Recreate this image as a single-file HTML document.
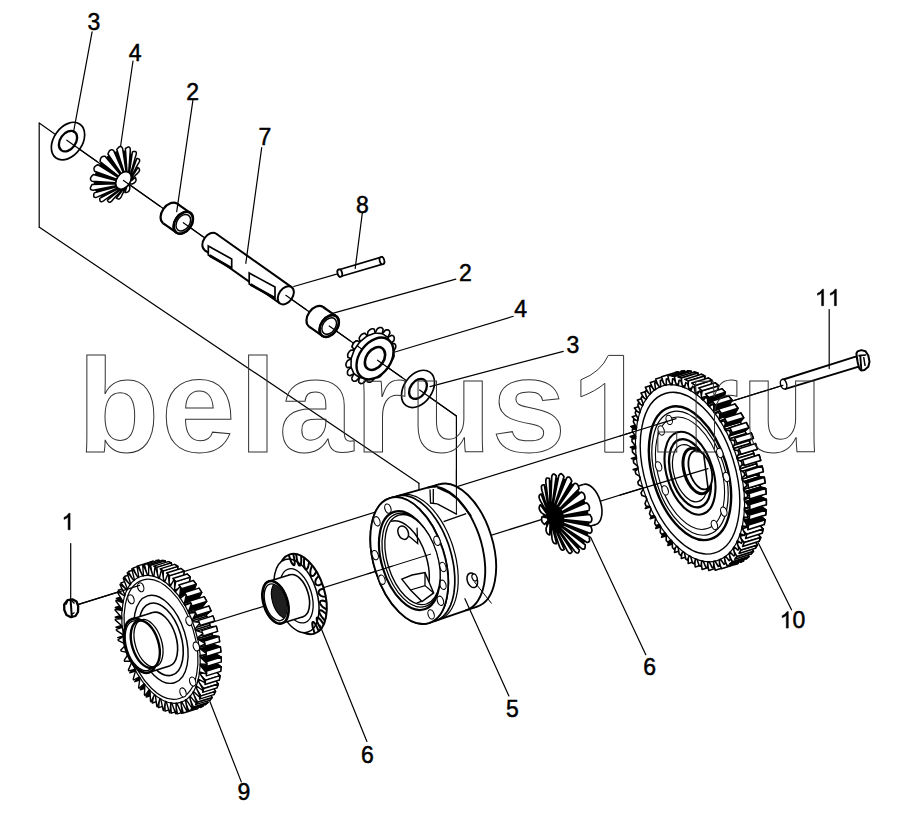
<!DOCTYPE html>
<html><head><meta charset="utf-8"><style>
html,body{margin:0;padding:0;background:#fff;}
svg{display:block;}
.wm text{font-family:"Liberation Sans",sans-serif;font-weight:bold;font-size:134px;fill:none;stroke:#333;stroke-width:1;}
.lb text{font-family:"Liberation Sans",sans-serif;font-size:23px;fill:#000;stroke:#000;stroke-width:0.5px;}
</style></head><body>
<svg width="900" height="827" viewBox="0 0 900 827">
<rect width="900" height="827" fill="#fff"/>
<g stroke-linecap="round"><line x1="39.2" y1="123.1" x2="39.2" y2="227.5" stroke="#000" stroke-width="1.2"/><line x1="39.2" y1="123.1" x2="55.1" y2="134.2" stroke="#000" stroke-width="1.2"/><line x1="39.4" y1="227.3" x2="418.9" y2="483.3" stroke="#000" stroke-width="1.2"/><line x1="418.9" y1="483.3" x2="419.1" y2="497.5" stroke="#000" stroke-width="1.2"/><line x1="456.4" y1="416.0" x2="456.4" y2="513.5" stroke="#000" stroke-width="1.2"/><line x1="66.8" y1="140.2" x2="456.4" y2="416.0" stroke="#000" stroke-width="1.2"/><line x1="161.0" y1="638.3" x2="690.0" y2="473.2" stroke="#000" stroke-width="1.2"/><line x1="77.8" y1="604.6" x2="783.0" y2="385.3" stroke="#000" stroke-width="1.2"/><line x1="293.8" y1="286.5" x2="336.6" y2="274.2" stroke="#000" stroke-width="1.2"/></g>
<g><g transform="translate(0,1.3)"><path d="M195.8,696.3 L194.8,696.6 L197.8,707.2 L194.9,707.8 L191.9,697.2 L190.9,697.3 L189.9,697.4 L192.0,708.0 L188.9,707.9 L186.8,697.2 L185.7,697.1 L184.6,696.9 L185.9,707.4 L182.7,706.6 L181.4,696.0 L180.3,695.7 L179.2,695.2 L179.5,705.4 L176.4,703.8 L176.0,693.6 L174.9,693.0 L173.8,692.3 L173.2,701.9 L170.0,699.7 L170.5,690.0 L169.4,689.2 L168.3,688.3 L166.8,697.2 L163.7,694.3 L165.1,685.4 L164.0,684.3 L163.0,683.2 L160.6,691.2 L157.6,687.7 L159.9,679.7 L158.9,678.4 L157.9,677.1 L154.7,684.0 L151.9,680.1 L155.1,673.1 L154.1,671.6 L153.2,670.2 L149.3,675.9 L146.7,671.5 L150.6,665.7 L149.7,664.1 L148.9,662.6 L144.3,667.0 L142.0,662.2 L146.6,657.7 L145.9,656.0 L145.2,654.4 L139.9,657.4 L138.0,652.4 L143.2,649.2 L142.6,647.5 L142.0,645.8 L136.2,647.3 L134.7,642.2 L140.4,640.5 L139.9,638.7 L139.4,636.9 L133.3,637.0 L132.2,631.8 L138.3,631.6 L137.9,629.8 L137.6,628.0 L131.2,626.6 L130.5,621.4 L136.9,622.7 L136.7,620.9 L136.5,619.2 L130.0,616.3 L129.7,611.3 L136.2,614.0 L136.2,612.3 L136.2,610.7 L129.6,606.4 L129.8,601.6 L136.3,605.8 L136.5,604.1 L136.6,602.6 L130.2,597.0 L130.8,592.5 L137.2,598.0 L137.5,596.5 L137.8,595.1 L131.6,588.3 L132.6,584.3 L138.9,591.0 L139.3,589.6 L139.7,588.4 L133.9,580.5 L135.3,576.9 L141.2,584.7 L141.8,583.6 L142.3,582.5 L137.0,573.7 L138.8,570.7 L144.2,579.5 L144.9,578.5 L145.6,577.6 L140.8,568.1 L143.0,565.7 L147.8,575.2 L148.6,574.5 L149.4,573.9 L145.3,563.7 L147.8,562.1 L152.0,572.1 L152.9,571.7 L153.8,571.2 L150.4,560.7 L153.2,559.8 L156.6,570.2 L157.6,570.0 L158.5,569.8 L156.0,559.2 L159.0,558.9 L161.6,569.6 L162.6,569.6 L163.6,569.7 L162.0,559.1 L165.1,559.5 L166.8,570.2 L167.9,570.4 L169.0,570.7 L168.2,560.4 L171.4,561.6 L172.2,572.0 L173.3,572.5 L174.4,573.0 L174.6,563.1 L177.8,565.0 L177.7,575.0 L178.8,575.7 L179.9,576.5 L181.0,567.2 L184.1,569.8 L183.2,579.1 L184.2,580.1 L185.3,581.1 L187.2,572.7 L190.3,575.8 L188.4,584.3 L189.5,585.5 L190.5,586.7 L193.3,579.2 L196.2,582.9 L193.5,590.5 L194.4,591.8 L195.4,593.2 L199.0,586.9 L201.7,591.1 L198.2,597.5 L199.0,599.0 L199.9,600.5 L204.2,595.4 L206.7,600.0 L202.4,605.2 L203.2,606.8 L204.0,608.4 L208.9,604.7 L211.0,609.6 L206.1,613.4 L206.8,615.1 L207.4,616.9 L213.0,614.6 L214.7,619.7 L209.2,622.1 L209.8,623.8 L210.3,625.6 L216.3,624.8 L217.6,630.0 L211.7,630.9 L212.1,632.7 L212.5,634.5 L218.8,635.2 L219.7,640.4 L213.5,639.8 L213.7,641.6 L214.0,643.4 L220.4,645.5 L220.9,650.7 L214.5,648.6 L214.6,650.4 L214.7,652.1 L221.2,655.7 L221.3,660.6 L214.7,657.1 L214.7,658.8 L214.6,660.4 L221.1,665.4 L220.7,670.0 L214.2,665.2 L214.0,666.7 L213.8,668.2 L220.1,674.4 L219.3,678.7 L213.0,672.6 L212.6,674.0 L212.3,675.3 L218.3,682.7 L217.0,686.5 L211.0,679.2 L210.5,680.5 L210.0,681.6 L215.6,690.0 L213.9,693.3 L208.3,685.0 L207.7,686.0 L207.0,687.0 L212.1,696.2 L210.1,698.9 L205.0,689.8 L204.2,690.6 L203.5,691.4 L207.9,701.2 L205.6,703.2 L201.1,693.4 L200.2,694.0 L199.4,694.6 L203.1,704.9 L200.5,706.2 L196.7,695.9 Z" fill="#fff" stroke="#000" stroke-width="1.4" stroke-linejoin="round"/><path d="M117.7,636.3 L123.8,636.1 L138.3,631.6 L132.2,631.8 Z" fill="#000" stroke="#000" stroke-width="1.4" stroke-linejoin="round"/><path d="M134.5,667.1 L129.8,671.5 L144.3,667.0 L148.9,662.6 Z" fill="#000" stroke="#000" stroke-width="1.4" stroke-linejoin="round"/><path d="M116.0,625.9 L122.4,627.2 L136.9,622.7 L130.5,621.4 Z" fill="#000" stroke="#000" stroke-width="1.4" stroke-linejoin="round"/><path d="M138.8,674.7 L134.8,680.4 L149.3,675.9 L153.2,670.2 Z" fill="#000" stroke="#000" stroke-width="1.4" stroke-linejoin="round"/><path d="M115.2,615.8 L121.8,618.5 L136.2,614.0 L129.7,611.3 Z" fill="#000" stroke="#000" stroke-width="1.4" stroke-linejoin="round"/><path d="M143.5,681.6 L140.3,688.5 L154.7,684.0 L157.9,677.1 Z" fill="#000" stroke="#000" stroke-width="1.4" stroke-linejoin="round"/><path d="M115.3,606.1 L121.9,610.3 L136.3,605.8 L129.8,601.6 Z" fill="#000" stroke="#000" stroke-width="1.4" stroke-linejoin="round"/><path d="M148.5,687.7 L146.2,695.7 L160.6,691.2 L163.0,683.2 Z" fill="#000" stroke="#000" stroke-width="1.4" stroke-linejoin="round"/><path d="M116.3,597.0 L122.8,602.5 L137.2,598.0 L130.8,592.5 Z" fill="#000" stroke="#000" stroke-width="1.4" stroke-linejoin="round"/><path d="M153.8,692.8 L152.3,701.7 L166.8,697.2 L168.3,688.3 Z" fill="#fff" stroke="#000" stroke-width="1.4" stroke-linejoin="round"/><path d="M118.2,588.8 L124.4,595.5 L138.9,591.0 L132.6,584.3 Z" fill="#fff" stroke="#000" stroke-width="1.4" stroke-linejoin="round"/><path d="M159.3,696.8 L158.7,706.4 L173.2,701.9 L173.8,692.3 Z" fill="#fff" stroke="#000" stroke-width="1.4" stroke-linejoin="round"/><path d="M120.9,581.5 L126.7,589.2 L141.2,584.7 L135.3,576.9 Z" fill="#fff" stroke="#000" stroke-width="1.4" stroke-linejoin="round"/><path d="M164.8,699.7 L165.1,709.9 L179.5,705.4 L179.2,695.2 Z" fill="#fff" stroke="#000" stroke-width="1.4" stroke-linejoin="round"/><path d="M124.3,575.2 L129.7,584.0 L144.2,579.5 L138.8,570.7 Z" fill="#fff" stroke="#000" stroke-width="1.4" stroke-linejoin="round"/><path d="M170.2,701.4 L171.4,711.9 L185.9,707.4 L184.6,696.9 Z" fill="#fff" stroke="#000" stroke-width="1.4" stroke-linejoin="round"/><path d="M128.5,570.2 L133.4,579.7 L147.8,575.2 L143.0,565.7 Z" fill="#fff" stroke="#000" stroke-width="1.4" stroke-linejoin="round"/><path d="M175.4,701.9 L177.5,712.5 L192.0,708.0 L189.9,697.4 Z" fill="#fff" stroke="#000" stroke-width="1.4" stroke-linejoin="round"/><path d="M133.3,566.6 L137.5,576.6 L152.0,572.1 L147.8,562.1 Z" fill="#fff" stroke="#000" stroke-width="1.4" stroke-linejoin="round"/><path d="M180.4,701.1 L183.3,711.7 L197.8,707.2 L194.8,696.6 Z" fill="#fff" stroke="#000" stroke-width="1.4" stroke-linejoin="round"/><path d="M138.7,564.3 L142.1,574.8 L156.6,570.2 L153.2,559.8 Z" fill="#fff" stroke="#000" stroke-width="1.4" stroke-linejoin="round"/><path d="M184.9,699.1 L188.7,709.4 L203.1,704.9 L199.4,694.6 Z" fill="#fff" stroke="#000" stroke-width="1.4" stroke-linejoin="round"/><path d="M185.8,698.5 L184.9,699.1 L199.4,694.6 L200.2,694.0 Z" fill="#000" stroke="#000" stroke-width="1.4" stroke-linejoin="round"/><path d="M144.5,563.4 L147.1,574.1 L161.6,569.6 L159.0,558.9 Z" fill="#fff" stroke="#000" stroke-width="1.4" stroke-linejoin="round"/><path d="M186.6,697.9 L185.8,698.5 L200.2,694.0 L201.1,693.4 Z" fill="#000" stroke="#000" stroke-width="1.4" stroke-linejoin="round"/><path d="M147.1,574.1 L148.1,574.1 L162.6,569.6 L161.6,569.6 Z" fill="#000" stroke="#000" stroke-width="1.4" stroke-linejoin="round"/><path d="M148.1,574.1 L149.2,574.2 L163.6,569.7 L162.6,569.6 Z" fill="#000" stroke="#000" stroke-width="1.4" stroke-linejoin="round"/><path d="M193.5,705.7 L191.1,707.7 L205.6,703.2 L207.9,701.2 Z" fill="#fff" stroke="#000" stroke-width="1.4" stroke-linejoin="round"/><path d="M189.8,695.1 L189.0,695.9 L203.5,691.4 L204.2,690.6 Z" fill="#000" stroke="#000" stroke-width="1.4" stroke-linejoin="round"/><path d="M189.0,695.9 L193.5,705.7 L207.9,701.2 L203.5,691.4 Z" fill="#fff" stroke="#000" stroke-width="1.4" stroke-linejoin="round"/><path d="M147.5,563.6 L150.6,564.0 L165.1,559.5 L162.0,559.1 Z" fill="#fff" stroke="#000" stroke-width="1.4" stroke-linejoin="round"/><path d="M190.5,694.3 L189.8,695.1 L204.2,690.6 L205.0,689.8 Z" fill="#000" stroke="#000" stroke-width="1.4" stroke-linejoin="round"/><path d="M152.4,574.7 L153.4,574.9 L167.9,570.4 L166.8,570.2 Z" fill="#000" stroke="#000" stroke-width="1.4" stroke-linejoin="round"/><path d="M150.6,564.0 L152.4,574.7 L166.8,570.2 L165.1,559.5 Z" fill="#fff" stroke="#000" stroke-width="1.4" stroke-linejoin="round"/><path d="M153.4,574.9 L154.5,575.2 L169.0,570.7 L167.9,570.4 Z" fill="#000" stroke="#000" stroke-width="1.4" stroke-linejoin="round"/><path d="M193.2,690.5 L192.6,691.5 L207.0,687.0 L207.7,686.0 Z" fill="#000" stroke="#000" stroke-width="1.4" stroke-linejoin="round"/><path d="M197.7,700.7 L195.6,703.4 L210.1,698.9 L212.1,696.2 Z" fill="#fff" stroke="#000" stroke-width="1.4" stroke-linejoin="round"/><path d="M192.6,691.5 L197.7,700.7 L212.1,696.2 L207.0,687.0 Z" fill="#fff" stroke="#000" stroke-width="1.4" stroke-linejoin="round"/><path d="M193.8,689.5 L193.2,690.5 L207.7,686.0 L208.3,685.0 Z" fill="#000" stroke="#000" stroke-width="1.4" stroke-linejoin="round"/><path d="M157.8,576.5 L158.9,577.0 L173.3,572.5 L172.2,572.0 Z" fill="#000" stroke="#000" stroke-width="1.4" stroke-linejoin="round"/><path d="M153.7,564.9 L156.9,566.1 L171.4,561.6 L168.2,560.4 Z" fill="#fff" stroke="#000" stroke-width="1.4" stroke-linejoin="round"/><path d="M156.9,566.1 L157.8,576.5 L172.2,572.0 L171.4,561.6 Z" fill="#fff" stroke="#000" stroke-width="1.4" stroke-linejoin="round"/><path d="M158.9,577.0 L160.0,577.5 L174.4,573.0 L173.3,572.5 Z" fill="#000" stroke="#000" stroke-width="1.4" stroke-linejoin="round"/><path d="M196.0,685.0 L195.5,686.2 L210.0,681.6 L210.5,680.5 Z" fill="#000" stroke="#000" stroke-width="1.4" stroke-linejoin="round"/><path d="M196.5,683.7 L196.0,685.0 L210.5,680.5 L211.0,679.2 Z" fill="#000" stroke="#000" stroke-width="1.4" stroke-linejoin="round"/><path d="M163.3,579.5 L164.4,580.2 L178.8,575.7 L177.7,575.0 Z" fill="#000" stroke="#000" stroke-width="1.4" stroke-linejoin="round"/><path d="M195.5,686.2 L201.1,694.5 L215.6,690.0 L210.0,681.6 Z" fill="#fff" stroke="#000" stroke-width="1.4" stroke-linejoin="round"/><path d="M201.1,694.5 L199.5,697.8 L213.9,693.3 L215.6,690.0 Z" fill="#fff" stroke="#000" stroke-width="1.4" stroke-linejoin="round"/><path d="M164.4,580.2 L165.4,581.0 L179.9,576.5 L178.8,575.7 Z" fill="#000" stroke="#000" stroke-width="1.4" stroke-linejoin="round"/><path d="M163.3,569.5 L163.3,579.5 L177.7,575.0 L177.8,565.0 Z" fill="#fff" stroke="#000" stroke-width="1.4" stroke-linejoin="round"/><path d="M160.1,567.6 L163.3,569.5 L177.8,565.0 L174.6,563.1 Z" fill="#fff" stroke="#000" stroke-width="1.4" stroke-linejoin="round"/><path d="M198.2,678.5 L197.8,679.8 L212.3,675.3 L212.6,674.0 Z" fill="#000" stroke="#000" stroke-width="1.4" stroke-linejoin="round"/><path d="M198.5,677.1 L198.2,678.5 L212.6,674.0 L213.0,672.6 Z" fill="#fff" stroke="#000" stroke-width="1.4" stroke-linejoin="round"/><path d="M168.7,583.6 L169.8,584.6 L184.2,580.1 L183.2,579.1 Z" fill="#fff" stroke="#000" stroke-width="1.4" stroke-linejoin="round"/><path d="M197.8,679.8 L203.8,687.2 L218.3,682.7 L212.3,675.3 Z" fill="#fff" stroke="#000" stroke-width="1.4" stroke-linejoin="round"/><path d="M169.8,584.6 L170.8,585.6 L185.3,581.1 L184.2,580.1 Z" fill="#fff" stroke="#000" stroke-width="1.4" stroke-linejoin="round"/><path d="M203.8,687.2 L202.6,691.0 L217.0,686.5 L218.3,682.7 Z" fill="#fff" stroke="#000" stroke-width="1.4" stroke-linejoin="round"/><path d="M169.7,574.3 L168.7,583.6 L183.2,579.1 L184.1,569.8 Z" fill="#fff" stroke="#000" stroke-width="1.4" stroke-linejoin="round"/><path d="M166.5,571.7 L169.7,574.3 L184.1,569.8 L181.0,567.2 Z" fill="#fff" stroke="#000" stroke-width="1.4" stroke-linejoin="round"/><path d="M199.6,671.2 L199.4,672.7 L213.8,668.2 L214.0,666.7 Z" fill="#fff" stroke="#000" stroke-width="1.4" stroke-linejoin="round"/><path d="M199.8,669.7 L199.6,671.2 L214.0,666.7 L214.2,665.2 Z" fill="#fff" stroke="#000" stroke-width="1.4" stroke-linejoin="round"/><path d="M174.0,588.8 L175.0,590.0 L189.5,585.5 L188.4,584.3 Z" fill="#fff" stroke="#000" stroke-width="1.4" stroke-linejoin="round"/><path d="M175.0,590.0 L176.0,591.2 L190.5,586.7 L189.5,585.5 Z" fill="#fff" stroke="#000" stroke-width="1.4" stroke-linejoin="round"/><path d="M199.4,672.7 L205.7,678.9 L220.1,674.4 L213.8,668.2 Z" fill="#fff" stroke="#000" stroke-width="1.4" stroke-linejoin="round"/><path d="M175.8,580.3 L174.0,588.8 L188.4,584.3 L190.3,575.8 Z" fill="#fff" stroke="#000" stroke-width="1.4" stroke-linejoin="round"/><path d="M205.7,678.9 L204.9,683.2 L219.3,678.7 L220.1,674.4 Z" fill="#fff" stroke="#000" stroke-width="1.4" stroke-linejoin="round"/><path d="M200.2,663.3 L200.2,664.9 L214.6,660.4 L214.7,658.8 Z" fill="#fff" stroke="#000" stroke-width="1.4" stroke-linejoin="round"/><path d="M200.3,661.6 L200.2,663.3 L214.7,658.8 L214.7,657.1 Z" fill="#fff" stroke="#000" stroke-width="1.4" stroke-linejoin="round"/><path d="M179.0,595.0 L180.0,596.3 L194.4,591.8 L193.5,590.5 Z" fill="#fff" stroke="#000" stroke-width="1.4" stroke-linejoin="round"/><path d="M172.8,577.2 L175.8,580.3 L190.3,575.8 L187.2,572.7 Z" fill="#fff" stroke="#000" stroke-width="1.4" stroke-linejoin="round"/><path d="M180.0,596.3 L180.9,597.7 L195.4,593.2 L194.4,591.8 Z" fill="#fff" stroke="#000" stroke-width="1.4" stroke-linejoin="round"/><path d="M200.2,664.9 L206.7,669.9 L221.1,665.4 L214.6,660.4 Z" fill="#000" stroke="#000" stroke-width="1.4" stroke-linejoin="round"/><path d="M200.1,654.9 L200.2,656.6 L214.7,652.1 L214.6,650.4 Z" fill="#fff" stroke="#000" stroke-width="1.4" stroke-linejoin="round"/><path d="M181.7,587.4 L179.0,595.0 L193.5,590.5 L196.2,582.9 Z" fill="#000" stroke="#000" stroke-width="1.4" stroke-linejoin="round"/><path d="M200.0,653.1 L200.1,654.9 L214.6,650.4 L214.5,648.6 Z" fill="#fff" stroke="#000" stroke-width="1.4" stroke-linejoin="round"/><path d="M183.7,602.0 L184.6,603.5 L199.0,599.0 L198.2,597.5 Z" fill="#fff" stroke="#000" stroke-width="1.4" stroke-linejoin="round"/><path d="M184.6,603.5 L185.4,605.0 L199.9,600.5 L199.0,599.0 Z" fill="#fff" stroke="#000" stroke-width="1.4" stroke-linejoin="round"/><path d="M206.7,669.9 L206.3,674.5 L220.7,670.0 L221.1,665.4 Z" fill="#fff" stroke="#000" stroke-width="1.4" stroke-linejoin="round"/><path d="M199.3,646.1 L199.5,647.9 L214.0,643.4 L213.7,641.6 Z" fill="#fff" stroke="#000" stroke-width="1.4" stroke-linejoin="round"/><path d="M178.8,583.7 L181.7,587.4 L196.2,582.9 L193.3,579.2 Z" fill="#fff" stroke="#000" stroke-width="1.4" stroke-linejoin="round"/><path d="M199.0,644.4 L199.3,646.1 L213.7,641.6 L213.5,639.8 Z" fill="#fff" stroke="#000" stroke-width="1.4" stroke-linejoin="round"/><path d="M187.9,609.7 L188.7,611.3 L203.2,606.8 L202.4,605.2 Z" fill="#fff" stroke="#000" stroke-width="1.4" stroke-linejoin="round"/><path d="M200.2,656.6 L206.8,660.2 L221.2,655.7 L214.7,652.1 Z" fill="#000" stroke="#000" stroke-width="1.4" stroke-linejoin="round"/><path d="M188.7,611.3 L189.5,612.9 L204.0,608.4 L203.2,606.8 Z" fill="#fff" stroke="#000" stroke-width="1.4" stroke-linejoin="round"/><path d="M187.2,595.6 L183.7,602.0 L198.2,597.5 L201.7,591.1 Z" fill="#000" stroke="#000" stroke-width="1.4" stroke-linejoin="round"/><path d="M197.6,637.2 L198.0,639.0 L212.5,634.5 L212.1,632.7 Z" fill="#fff" stroke="#000" stroke-width="1.4" stroke-linejoin="round"/><path d="M197.2,635.4 L197.6,637.2 L212.1,632.7 L211.7,630.9 Z" fill="#fff" stroke="#000" stroke-width="1.4" stroke-linejoin="round"/><path d="M191.7,617.9 L192.3,619.6 L206.8,615.1 L206.1,613.4 Z" fill="#fff" stroke="#000" stroke-width="1.4" stroke-linejoin="round"/><path d="M192.3,619.6 L193.0,621.4 L207.4,616.9 L206.8,615.1 Z" fill="#fff" stroke="#000" stroke-width="1.4" stroke-linejoin="round"/><path d="M195.3,628.3 L195.8,630.1 L210.3,625.6 L209.8,623.8 Z" fill="#fff" stroke="#000" stroke-width="1.4" stroke-linejoin="round"/><path d="M194.8,626.6 L195.3,628.3 L209.8,623.8 L209.2,622.1 Z" fill="#fff" stroke="#000" stroke-width="1.4" stroke-linejoin="round"/><path d="M206.8,660.2 L206.8,665.1 L221.3,660.6 L221.2,655.7 Z" fill="#fff" stroke="#000" stroke-width="1.4" stroke-linejoin="round"/><path d="M199.5,647.9 L206.0,650.1 L220.4,645.5 L214.0,643.4 Z" fill="#000" stroke="#000" stroke-width="1.4" stroke-linejoin="round"/><path d="M192.2,604.5 L187.9,609.7 L202.4,605.2 L206.7,600.0 Z" fill="#000" stroke="#000" stroke-width="1.4" stroke-linejoin="round"/><path d="M184.5,591.4 L187.2,595.6 L201.7,591.1 L199.0,586.9 Z" fill="#fff" stroke="#000" stroke-width="1.4" stroke-linejoin="round"/><path d="M198.0,639.0 L204.3,639.7 L218.8,635.2 L212.5,634.5 Z" fill="#000" stroke="#000" stroke-width="1.4" stroke-linejoin="round"/><path d="M196.6,614.1 L191.7,617.9 L206.1,613.4 L211.0,609.6 Z" fill="#000" stroke="#000" stroke-width="1.4" stroke-linejoin="round"/><path d="M206.0,650.1 L206.5,655.2 L220.9,650.7 L220.4,645.5 Z" fill="#fff" stroke="#000" stroke-width="1.4" stroke-linejoin="round"/><path d="M189.8,599.9 L192.2,604.5 L206.7,600.0 L204.2,595.4 Z" fill="#fff" stroke="#000" stroke-width="1.4" stroke-linejoin="round"/><path d="M204.3,639.7 L205.2,644.9 L219.7,640.4 L218.8,635.2 Z" fill="#fff" stroke="#000" stroke-width="1.4" stroke-linejoin="round"/><path d="M194.5,609.2 L196.6,614.1 L211.0,609.6 L208.9,604.7 Z" fill="#fff" stroke="#000" stroke-width="1.4" stroke-linejoin="round"/><path d="M201.8,629.3 L203.2,634.5 L217.6,630.0 L216.3,624.8 Z" fill="#fff" stroke="#000" stroke-width="1.4" stroke-linejoin="round"/><path d="M198.5,619.1 L200.2,624.2 L214.7,619.7 L213.0,614.6 Z" fill="#fff" stroke="#000" stroke-width="1.4" stroke-linejoin="round"/><path d="M181.3,700.8 L180.9,700.9 L182.2,712.0 L181.6,712.1 L176.8,701.8 L176.4,701.8 L176.0,701.8 L176.3,712.5 L175.7,712.5 L171.7,701.7 L171.2,701.6 L170.8,701.5 L170.1,711.6 L169.5,711.5 L166.3,700.3 L165.9,700.2 L165.4,700.0 L163.8,709.3 L163.2,709.0 L160.8,697.8 L160.4,697.5 L160.0,697.2 L157.4,705.6 L156.8,705.1 L155.4,694.0 L154.9,693.7 L154.5,693.3 L151.1,700.6 L150.5,700.0 L150.0,689.2 L149.6,688.8 L149.2,688.4 L145.0,694.3 L144.4,693.6 L144.9,683.4 L144.5,682.9 L144.1,682.4 L139.1,687.0 L138.6,686.2 L140.0,676.7 L139.7,676.2 L139.3,675.6 L133.7,678.7 L133.2,677.8 L135.6,669.3 L135.3,668.6 L135.0,668.0 L128.9,669.6 L128.4,668.6 L131.7,661.2 L131.4,660.5 L131.1,659.9 L124.6,659.9 L124.3,658.9 L128.3,652.7 L128.1,652.0 L127.9,651.3 L121.1,649.8 L120.8,648.7 L125.6,643.9 L125.4,643.2 L125.2,642.5 L118.4,639.4 L118.1,638.4 L123.6,635.0 L123.5,634.3 L123.3,633.6 L116.4,629.0 L116.3,628.0 L122.3,626.1 L122.2,625.4 L122.1,624.7 L115.4,618.8 L115.3,617.8 L121.7,617.5 L121.7,616.8 L121.7,616.2 L115.2,609.0 L115.2,608.0 L122.0,609.3 L122.0,608.7 L122.1,608.0 L115.9,599.7 L116.1,598.8 L122.9,601.6 L123.0,601.0 L123.2,600.5 L117.5,591.2 L117.7,590.3 L124.6,594.7 L124.8,594.1 L125.0,593.6 L120.0,583.5 L120.3,582.8 L127.1,588.6 L127.3,588.1 L127.5,587.7 L123.2,577.0 L123.6,576.4 L130.2,583.4 L130.4,583.0 L130.7,582.7 L127.2,571.6 L127.6,571.1 L133.8,579.3 L134.2,579.0 L134.5,578.8 L131.8,567.5 L132.3,567.2 L138.0,576.4 L138.4,576.2 L138.8,576.0 L137.0,564.8 L137.6,564.6 L142.7,574.6 L143.1,574.5 L143.5,574.4 L142.7,563.5 L143.3,563.5 L147.7,574.1 L148.1,574.1 L148.6,574.1 L148.7,563.7 L149.4,563.8 L153.0,574.8 L153.4,574.9 L153.9,575.0 L155.0,565.3 L155.6,565.6 L158.4,576.8 L158.9,577.0 L159.3,577.2 L161.4,568.3 L162.0,568.7 L163.9,579.9 L164.4,580.2 L164.8,580.5 L167.8,572.7 L168.4,573.2 L169.3,584.2 L169.8,584.6 L170.2,585.0 L174.0,578.4 L174.6,579.0 L174.6,589.5 L175.0,590.0 L175.4,590.5 L180.0,585.2 L180.6,585.9 L179.6,595.8 L180.0,596.3 L180.4,596.9 L185.6,593.0 L186.2,593.9 L184.2,602.9 L184.6,603.5 L184.9,604.1 L190.8,601.7 L191.2,602.7 L188.4,610.7 L188.7,611.3 L189.0,612.0 L195.3,611.2 L195.7,612.1 L192.1,619.0 L192.3,619.6 L192.6,620.3 L199.2,621.1 L199.6,622.1 L195.1,627.6 L195.3,628.3 L195.5,629.0 L202.4,631.4 L202.6,632.4 L197.5,636.5 L197.6,637.2 L197.8,637.9 L204.7,641.8 L204.9,642.8 L199.2,645.4 L199.3,646.1 L199.4,646.8 L206.2,652.1 L206.3,653.1 L200.1,654.2 L200.1,654.9 L200.2,655.6 L206.8,662.2 L206.8,663.1 L200.3,662.6 L200.2,663.3 L200.2,663.9 L206.5,671.7 L206.5,672.7 L199.7,670.6 L199.6,671.2 L199.5,671.8 L205.4,680.7 L205.2,681.5 L198.3,677.9 L198.2,678.5 L198.0,679.0 L203.3,688.7 L203.1,689.5 L196.2,684.5 L196.0,685.0 L195.8,685.4 L200.5,695.9 L200.2,696.5 L193.5,690.1 L193.2,690.5 L193.0,690.9 L196.9,701.8 L196.5,702.4 L190.1,694.8 L189.8,695.1 L189.5,695.4 L192.6,706.6 L192.1,707.0 L186.1,698.3 L185.8,698.5 L185.4,698.7 L187.6,710.0 L187.1,710.2 L181.7,700.6 Z" fill="#fff" stroke="#000" stroke-width="1.4" stroke-linejoin="round"/><ellipse cx="161.0" cy="638.0" rx="66.0" ry="35.6" transform="rotate(72.70 161.0 638.0)" fill="none" stroke="#000" stroke-width="1.2" /><ellipse cx="161.0" cy="638.0" rx="62.0" ry="33.5" transform="rotate(72.70 161.0 638.0)" fill="none" stroke="#000" stroke-width="1.2" /><ellipse cx="161.0" cy="638.0" rx="45.5" ry="24.6" transform="rotate(72.70 161.0 638.0)" fill="none" stroke="#000" stroke-width="1.4" /><ellipse cx="161.0" cy="638.0" rx="37.5" ry="20.2" transform="rotate(72.70 161.0 638.0)" fill="none" stroke="#000" stroke-width="1.6" /><ellipse cx="140.7" cy="586.0" rx="3.0" ry="4.6" transform="rotate(-18 140.7 586.0)" fill="#fff" stroke="#000" stroke-width="1.1"/><ellipse cx="131.0" cy="598.0" rx="3.0" ry="4.6" transform="rotate(-18 131.0 598.0)" fill="#fff" stroke="#000" stroke-width="1.1"/><ellipse cx="189.0" cy="619.8" rx="3.0" ry="4.6" transform="rotate(-18 189.0 619.8)" fill="#fff" stroke="#000" stroke-width="1.1"/><ellipse cx="196.3" cy="645.2" rx="3.0" ry="4.6" transform="rotate(-18 196.3 645.2)" fill="#fff" stroke="#000" stroke-width="1.1"/><ellipse cx="192.7" cy="680.3" rx="3.0" ry="4.6" transform="rotate(-18 192.7 680.3)" fill="#fff" stroke="#000" stroke-width="1.1"/><ellipse cx="183.0" cy="691.1" rx="3.0" ry="4.6" transform="rotate(-18 183.0 691.1)" fill="#fff" stroke="#000" stroke-width="1.1"/><ellipse cx="161.0" cy="638.0" rx="28.0" ry="15.1" transform="rotate(72.70 161.0 638.0)" fill="#fff" stroke="#000" stroke-width="1.6" /><path d="M148.8,671.1 L169.3,664.7 L152.7,611.3 L132.2,617.6 Z" fill="#fff" stroke="none"/><line x1="148.8" y1="671.1" x2="169.3" y2="664.7" stroke="#000" stroke-width="1.6"/><line x1="152.7" y1="611.3" x2="132.2" y2="617.6" stroke="#000" stroke-width="1.6"/><ellipse cx="140.5" cy="644.4" rx="28.0" ry="15.1" transform="rotate(72.70 140.5 644.4)" fill="#fff" stroke="#000" stroke-width="1.6" /><ellipse cx="140.5" cy="644.4" rx="28.0" ry="15.1" transform="rotate(72.70 140.5 644.4)" fill="#fff" stroke="#000" stroke-width="2.6" /><ellipse cx="140.5" cy="644.4" rx="25.8" ry="13.9" transform="rotate(72.70 140.5 644.4)" fill="#fff" stroke="#000" stroke-width="1.3" /><ellipse cx="145.3" cy="642.9" rx="24.5" ry="13.2" transform="rotate(72.70 145.3 642.9)" fill="#fff" stroke="#000" stroke-width="2.4" /><ellipse cx="148.5" cy="641.9" rx="24.5" ry="13.2" transform="rotate(72.70 148.5 641.9)" fill="none" stroke="#000" stroke-width="1.3" /></g><ellipse cx="302.1" cy="594.0" rx="41.5" ry="22.4" transform="rotate(72.70 302.1 594.0)" fill="#fff" stroke="#000" stroke-width="2.0" /><ellipse cx="296.5" cy="595.8" rx="38.0" ry="20.5" transform="rotate(72.70 296.5 595.8)" fill="#fff" stroke="#000" stroke-width="1.5" /><ellipse cx="296.5" cy="595.8" rx="28.0" ry="15.1" transform="rotate(72.70 296.5 595.8)" fill="none" stroke="#000" stroke-width="1.3" /><path d="M288.7,554.8 L290.4,559.7 L290.9,561.2 L291.6,562.6 L292.3,563.7 L292.9,564.6 L293.5,565.1 L294.0,565.2 L294.4,564.9 L294.6,564.2 L294.7,563.2 L294.7,561.9 L294.6,560.5 L294.3,558.9 L293.2,553.9" fill="none" stroke="#000" stroke-width="2.0" stroke-linejoin="round"/><path d="M296.1,554.1 L296.9,559.1 L297.2,560.7 L297.6,562.2 L298.1,563.5 L298.6,564.6 L299.1,565.3 L299.6,565.6 L300.0,565.6 L300.5,565.2 L300.8,564.4 L301.1,563.4 L301.2,562.1 L301.3,560.6 L301.1,555.8" fill="none" stroke="#000" stroke-width="2.0" stroke-linejoin="round"/><path d="M304.2,557.7 L304.0,562.2 L304.0,563.7 L304.1,565.2 L304.3,566.6 L304.6,567.7 L305.0,568.6 L305.5,569.2 L306.0,569.4 L306.5,569.3 L307.0,568.9 L307.5,568.2 L308.0,567.2 L308.3,566.0 L309.2,562.0" fill="none" stroke="#000" stroke-width="2.0" stroke-linejoin="round"/><path d="M312.1,565.3 L310.9,568.9 L310.5,570.1 L310.4,571.4 L310.3,572.6 L310.4,573.7 L310.6,574.7 L311.0,575.4 L311.5,575.9 L312.0,576.1 L312.7,576.0 L313.4,575.7 L314.1,575.2 L314.7,574.4 L316.5,571.6" fill="none" stroke="#000" stroke-width="2.0" stroke-linejoin="round"/><path d="M318.9,575.9 L316.8,578.2 L316.2,579.0 L315.7,580.0 L315.4,581.0 L315.3,582.0 L315.3,582.9 L315.5,583.7 L315.9,584.3 L316.5,584.8 L317.2,585.1 L318.0,585.3 L318.9,585.2 L319.7,584.9 L322.2,583.6" fill="none" stroke="#000" stroke-width="2.0" stroke-linejoin="round"/><path d="M323.9,588.6 L321.2,589.2 L320.3,589.6 L319.6,590.1 L319.1,590.8 L318.7,591.5 L318.6,592.3 L318.6,593.0 L318.9,593.8 L319.4,594.5 L320.1,595.2 L321.0,595.8 L321.9,596.2 L322.9,596.4 L325.8,596.8" fill="none" stroke="#000" stroke-width="2.0" stroke-linejoin="round"/><path d="M326.5,601.8 L323.5,600.8 L322.5,600.6 L321.6,600.7 L320.9,600.9 L320.4,601.3 L320.0,601.8 L319.9,602.5 L320.1,603.3 L320.5,604.2 L321.1,605.2 L321.9,606.1 L322.8,607.0 L323.7,607.7 L326.8,609.6" fill="none" stroke="#000" stroke-width="2.0" stroke-linejoin="round"/><path d="M326.5,614.2 L323.4,611.7 L322.5,611.0 L321.5,610.5 L320.7,610.3 L320.0,610.3 L319.6,610.6 L319.3,611.1 L319.3,611.8 L319.5,612.8 L320.0,613.9 L320.6,615.1 L321.4,616.3 L322.3,617.5 L325.1,620.8" fill="none" stroke="#000" stroke-width="2.0" stroke-linejoin="round"/><path d="M323.8,624.4 L321.1,620.6 L320.2,619.5 L319.3,618.6 L318.5,617.9 L317.8,617.6 L317.2,617.5 L316.8,617.8 L316.7,618.4 L316.7,619.3 L316.9,620.5 L317.3,621.8 L317.9,623.3 L318.6,624.7 L321.0,629.1" fill="none" stroke="#000" stroke-width="2.0" stroke-linejoin="round"/><path d="M318.8,631.3 L316.7,626.6 L316.0,625.2 L315.2,624.0 L314.5,623.0 L313.8,622.3 L313.2,621.9 L312.8,621.9 L312.5,622.3 L312.3,623.1 L312.3,624.2 L312.4,625.5 L312.7,627.1 L313.2,628.6 L314.7,633.6" fill="none" stroke="#000" stroke-width="2.0" stroke-linejoin="round"/><ellipse cx="296.5" cy="595.8" rx="22.0" ry="11.9" transform="rotate(72.70 296.5 595.8)" fill="#fff" stroke="#000" stroke-width="1.6" /><path d="M282.0,623.3 L303.0,616.8 L290.0,574.8 L269.0,581.3 Z" fill="#fff" stroke="none"/><line x1="282.0" y1="623.3" x2="303.0" y2="616.8" stroke="#000" stroke-width="1.6"/><line x1="290.0" y1="574.8" x2="269.0" y2="581.3" stroke="#000" stroke-width="1.6"/><ellipse cx="275.5" cy="602.3" rx="22.0" ry="11.9" transform="rotate(72.70 275.5 602.3)" fill="#fff" stroke="#000" stroke-width="1.6" /><ellipse cx="275.5" cy="602.3" rx="22.0" ry="11.9" transform="rotate(72.70 275.5 602.3)" fill="#fff" stroke="#000" stroke-width="2.6" /><clipPath id="bore6"><ellipse cx="275.5" cy="602.3" rx="19" ry="10.3" transform="rotate(72.70 275.5 602.3)"/></clipPath><ellipse cx="275.5" cy="602.3" rx="19.0" ry="10.3" transform="rotate(72.70 275.5 602.3)" fill="#fff" stroke="#000" stroke-width="1.4" /><g clip-path="url(#bore6)"><ellipse cx="282.7" cy="600.1" rx="19.0" ry="10.3" transform="rotate(72.70 282.7 600.1)" fill="#1e1e1e" stroke="#000" stroke-width="1.2" /></g><ellipse cx="458.0" cy="545.5" rx="64.0" ry="34.6" transform="rotate(72.70 458.0 545.5)" fill="#fff" stroke="#000" stroke-width="1.9" /><path d="M428.7,623.1 L477.0,606.6 L439.0,484.4 L389.9,498.2 Z" fill="#fff" stroke="none"/><line x1="428.7" y1="623.1" x2="477.0" y2="606.6" stroke="#000" stroke-width="1.9"/><line x1="439.0" y1="484.4" x2="389.9" y2="498.2" stroke="#000" stroke-width="1.9"/><ellipse cx="409.3" cy="560.6" rx="65.4" ry="35.3" transform="rotate(72.70 409.3 560.6)" fill="#fff" stroke="#000" stroke-width="1.9" /><path d="M427.9,487.6 L429.7,487.2 L431.5,486.9 L433.3,486.8 L435.2,486.8 L437.1,487.0 L439.1,487.4 L441.0,488.0 L443.0,488.7 L445.0,489.6 L447.0,490.7 L449.0,491.9 L451.0,493.3 L453.0,494.8 L455.0,496.5 L456.9,498.3 L458.8,500.2 L460.7,502.3 L462.6,504.5 L464.4,506.9 L466.1,509.3 L467.8,511.9 L469.5,514.6 L471.1,517.3 L472.6,520.2 L474.0,523.1 L475.4,526.1 L476.7,529.1 L477.9,532.2 L479.1,535.4 L480.1,538.6 L481.1,541.8 L481.9,545.1 L482.7,548.3 L483.3,551.6 L483.9,554.8 L484.4,558.0 L484.7,561.2 L485.0,564.4 L485.2,567.5 L485.2,570.6 L485.2,573.6 L485.0,576.6 L484.7,579.5 L484.4,582.3 L483.9,585.0 L483.3,587.6 L482.7,590.1 L481.9,592.4 L481.0,594.7 L480.1,596.8 L479.0,598.8 L477.9,600.7 L476.7,602.4 L475.4,604.0 L474.0,605.4 L472.6,606.7 L471.0,607.8 L469.4,608.8 L467.8,609.6 L466.1,610.2" fill="none" stroke="#000" stroke-width="1.9" stroke-linecap="round"/><path d="M396.6,496.3 L398.4,495.8 L400.2,495.6 L402.1,495.4 L404.0,495.5 L406.0,495.7 L407.9,496.1 L409.9,496.7 L412.0,497.4 L414.0,498.3 L416.0,499.4 L418.0,500.7 L420.1,502.0 L422.1,503.6 L424.1,505.3 L426.1,507.1 L428.0,509.1 L429.9,511.2 L431.8,513.5 L433.6,515.9 L435.4,518.4 L437.1,521.0 L438.8,523.7 L440.4,526.5 L442.0,529.4 L443.5,532.3 L444.8,535.4 L446.2,538.5 L447.4,541.6 L448.6,544.8 L449.6,548.1 L450.6,551.4 L451.5,554.7 L452.2,558.0 L452.9,561.3 L453.5,564.6 L454.0,567.8 L454.3,571.1 L454.6,574.3 L454.8,577.5 L454.8,580.6 L454.8,583.7 L454.6,586.7 L454.3,589.6 L454.0,592.4 L453.5,595.2 L452.9,597.8 L452.2,600.4 L451.4,602.8 L450.6,605.1 L449.6,607.2 L448.5,609.3 L447.4,611.2 L446.1,612.9 L444.8,614.5 L443.4,616.0 L442.0,617.3 L440.4,618.4 L438.8,619.4 L437.1,620.2 L435.4,620.8" fill="none" stroke="#000" stroke-width="1.7" stroke-linecap="round"/><path d="M400.1,495.3 L401.9,494.9 L403.8,494.6 L405.6,494.4 L407.5,494.5 L409.5,494.7 L411.5,495.1 L413.5,495.7 L415.5,496.4 L417.5,497.3 L419.5,498.4 L421.5,499.7 L423.6,501.0 L425.6,502.6 L427.6,504.3 L429.5,506.1 L431.5,508.1 L433.4,510.2 L435.3,512.5 L437.1,514.9 L438.9,517.3 L440.6,519.9 L442.3,522.6 L443.9,525.4 L445.4,528.3 L446.9,531.3 L448.3,534.3 L449.6,537.4 L450.9,540.6 L452.0,543.8 L453.1,547.0 L454.0,550.3 L454.9,553.6 L455.7,556.9 L456.4,560.2 L456.9,563.5 L457.4,566.7 L457.8,570.0 L458.0,573.2 L458.2,576.4 L458.2,579.5 L458.2,582.6 L458.0,585.5 L457.8,588.5 L457.4,591.3 L456.9,594.0 L456.3,596.7 L455.7,599.2 L454.9,601.6 L454.0,603.9 L453.0,606.1 L452.0,608.1 L450.8,610.0 L449.6,611.8 L448.3,613.4 L446.9,614.8 L445.4,616.1 L443.9,617.2 L442.3,618.2 L440.6,619.0 L438.9,619.6" fill="none" stroke="#000" stroke-width="1.2" stroke-linecap="round"/><ellipse cx="409.3" cy="560.6" rx="65.4" ry="35.3" transform="rotate(72.70 409.3 560.6)" fill="#fff" stroke="#000" stroke-width="1.8" /><path d="M430.0,489.4 L437.3,487.3 L449.8,493.1 L457.8,499.3 L465.8,509.1 L466.2,513.6 L443.6,521.6 L437.3,503.8 L430.5,503.0 Z" fill="#fff" stroke="none"/><line x1="430.0" y1="489.6" x2="430.5" y2="503.0" stroke="#000" stroke-width="1.3"/><line x1="433.3" y1="489.0" x2="433.3" y2="503.0" stroke="#000" stroke-width="1.3"/><line x1="430.0" y1="503.0" x2="437.3" y2="503.8" stroke="#000" stroke-width="1.3"/><line x1="437.3" y1="503.8" x2="456.9" y2="514.4" stroke="#000" stroke-width="1.4"/><line x1="443.6" y1="521.6" x2="466.2" y2="513.6" stroke="#000" stroke-width="1.4"/><path d="M437.3,487.3 L449.8,493.1 L457.8,499.3 L465.8,509.1 L471.0,516.2" fill="none" stroke="#000" stroke-width="2"/><line x1="456.4" y1="470.0" x2="456.4" y2="514.4" stroke="#000" stroke-width="1.0"/><ellipse cx="472.3" cy="580.3" rx="5.0" ry="7.5" transform="rotate(-20 472.3 580.3)" fill="#fff" stroke="#000" stroke-width="1.5"/><ellipse cx="474.5" cy="577.5" rx="2.4" ry="3.6" transform="rotate(-20 474.5 577.5)" fill="#fff" stroke="#000" stroke-width="1.2"/><line x1="474.5" y1="582.0" x2="491.6" y2="603.5" stroke="#000" stroke-width="1.0"/><ellipse cx="387.9" cy="508.6" rx="3.0" ry="4.8" transform="rotate(-18 387.9 508.6)" fill="#fff" stroke="#000" stroke-width="1.1"/><ellipse cx="376.9" cy="521.3" rx="3.0" ry="4.8" transform="rotate(-18 376.9 521.3)" fill="#fff" stroke="#000" stroke-width="1.1"/><ellipse cx="375.2" cy="555.1" rx="3.0" ry="4.8" transform="rotate(-18 375.2 555.1)" fill="#fff" stroke="#000" stroke-width="1.1"/><ellipse cx="382.0" cy="579.7" rx="3.0" ry="4.8" transform="rotate(-18 382.0 579.7)" fill="#fff" stroke="#000" stroke-width="1.1"/><ellipse cx="431.1" cy="614.4" rx="3.0" ry="4.8" transform="rotate(-18 431.1 614.4)" fill="#fff" stroke="#000" stroke-width="1.1"/><ellipse cx="440.4" cy="600.8" rx="3.0" ry="4.8" transform="rotate(-18 440.4 600.8)" fill="#fff" stroke="#000" stroke-width="1.1"/><ellipse cx="442.9" cy="584.8" rx="3.0" ry="4.8" transform="rotate(-18 442.9 584.8)" fill="#fff" stroke="#000" stroke-width="1.1"/><ellipse cx="442.9" cy="567.0" rx="3.0" ry="4.8" transform="rotate(-18 442.9 567.0)" fill="#fff" stroke="#000" stroke-width="1.1"/><ellipse cx="437.0" cy="540.8" rx="3.0" ry="4.8" transform="rotate(-18 437.0 540.8)" fill="#fff" stroke="#000" stroke-width="1.1"/><ellipse cx="409.3" cy="560.6" rx="51.0" ry="27.5" transform="rotate(72.70 409.3 560.6)" fill="#fff" stroke="#000" stroke-width="2.2" /><ellipse cx="410.9" cy="560.1" rx="48.5" ry="26.2" transform="rotate(72.70 410.9 560.1)" fill="#fff" stroke="#000" stroke-width="1.3" /><ellipse cx="412.5" cy="559.6" rx="46.5" ry="25.1" transform="rotate(72.70 412.5 559.6)" fill="#fff" stroke="#000" stroke-width="1.3" /><clipPath id="bore"><ellipse cx="412.5" cy="559.6" rx="46" ry="24.8" transform="rotate(72.70 412.5 559.6)"/></clipPath><g clip-path="url(#bore)"><ellipse cx="403.7" cy="562.4" rx="43.0" ry="23.2" transform="rotate(72.70 403.7 562.4)" fill="none" stroke="#000" stroke-width="1.5" /><line x1="385.0" y1="568.4" x2="431.0" y2="554.0" stroke="#000" stroke-width="1.0"/><ellipse cx="403.2" cy="532.7" rx="5.0" ry="7.0" transform="rotate(-25 403.2 532.7)" fill="#fff" stroke="#000" stroke-width="1.5"/><path d="M409.0,536.3 L417.7,543.5 L417.0,527.6" fill="none" stroke="#000" stroke-width="1.3"/><path d="M401.8,579.1 L412.0,575.0 L425.0,572.6 L433.7,592.9 L422.0,601.6 L410.5,590.0 Z" fill="#fff" stroke="#000" stroke-width="1.4"/><path d="M410.5,590.0 L425.0,585.6 L433.7,592.9" fill="none" stroke="#000" stroke-width="1.3"/><line x1="425.0" y1="572.6" x2="425.0" y2="585.6" stroke="#000" stroke-width="1.3"/></g><ellipse cx="589.5" cy="504.5" rx="21.0" ry="11.3" transform="rotate(72.70 589.5 504.5)" fill="#fff" stroke="#000" stroke-width="1.6" /><path d="M581.1,529.1 L595.7,524.6 L583.3,484.5 L568.6,489.0 Z" fill="#fff" stroke="none"/><line x1="581.1" y1="529.1" x2="595.7" y2="524.6" stroke="#000" stroke-width="1.6"/><line x1="583.3" y1="484.5" x2="568.6" y2="489.0" stroke="#000" stroke-width="1.6"/><ellipse cx="574.8" cy="509.1" rx="21.0" ry="11.3" transform="rotate(72.70 574.8 509.1)" fill="#fff" stroke="#000" stroke-width="1.6" /><path d="M576.4,548.4 L575.2,548.7 L558.5,528.3 L558.8,528.3 Z" fill="#000" stroke="#000" stroke-width="0.8"/><path d="M575.2,548.7 L574.1,548.9 L558.1,528.4 L558.5,528.3 Z" fill="#000" stroke="#000" stroke-width="0.8"/><path d="M574.1,548.9 L572.9,549.0 L557.7,528.4 L558.1,528.4 Z" fill="#000" stroke="#000" stroke-width="0.8"/><path d="M572.9,549.0 L571.8,549.0 L557.3,528.4 L557.7,528.4 Z" fill="#000" stroke="#000" stroke-width="0.8"/><path d="M571.8,549.0 L570.6,548.9 L556.9,528.4 L557.3,528.4 Z" fill="#000" stroke="#000" stroke-width="0.8"/><path d="M570.6,548.9 L569.4,548.7 L556.5,528.4 L556.9,528.4 Z" fill="#000" stroke="#000" stroke-width="0.8"/><path d="M569.4,548.7 L568.1,548.4 L556.1,528.3 L556.5,528.4 Z" fill="#000" stroke="#000" stroke-width="0.8"/><path d="M568.1,548.4 L566.9,548.0 L555.7,528.1 L556.1,528.3 Z" fill="#000" stroke="#000" stroke-width="0.8"/><path d="M566.9,548.0 L565.7,547.6 L555.3,528.0 L555.7,528.1 Z" fill="#000" stroke="#000" stroke-width="0.8"/><path d="M565.7,547.6 L564.4,547.0 L554.9,527.8 L555.3,528.0 Z" fill="#000" stroke="#000" stroke-width="0.8"/><path d="M564.4,547.0 L563.2,546.3 L554.5,527.6 L554.9,527.8 Z" fill="#000" stroke="#000" stroke-width="0.8"/><path d="M563.2,546.3 L562.0,545.6 L554.1,527.3 L554.5,527.6 Z" fill="#000" stroke="#000" stroke-width="0.8"/><path d="M562.0,545.6 L560.8,544.7 L553.7,527.0 L554.1,527.3 Z" fill="#000" stroke="#000" stroke-width="0.8"/><path d="M560.8,544.7 L559.6,543.8 L553.3,526.7 L553.7,527.0 Z" fill="#000" stroke="#000" stroke-width="0.8"/><path d="M559.6,543.8 L558.4,542.8 L552.9,526.4 L553.3,526.7 Z" fill="#000" stroke="#000" stroke-width="0.8"/><path d="M558.4,542.8 L557.2,541.7 L552.5,526.0 L552.9,526.4 Z" fill="#000" stroke="#000" stroke-width="0.8"/><path d="M557.2,541.7 L556.1,540.6 L552.2,525.7 L552.5,526.0 Z" fill="#000" stroke="#000" stroke-width="0.8"/><path d="M556.1,540.6 L555.0,539.3 L551.8,525.3 L552.2,525.7 Z" fill="#000" stroke="#000" stroke-width="0.8"/><path d="M555.0,539.3 L553.9,538.0 L551.4,524.8 L551.8,525.3 Z" fill="#000" stroke="#000" stroke-width="0.8"/><path d="M553.9,538.0 L552.8,536.6 L551.1,524.4 L551.4,524.8 Z" fill="#000" stroke="#000" stroke-width="0.8"/><path d="M552.8,536.6 L551.8,535.2 L550.7,523.9 L551.1,524.4 Z" fill="#000" stroke="#000" stroke-width="0.8"/><path d="M551.8,535.2 L550.8,533.7 L550.4,523.4 L550.7,523.9 Z" fill="#000" stroke="#000" stroke-width="0.8"/><path d="M550.8,533.7 L549.9,532.1 L550.1,522.9 L550.4,523.4 Z" fill="#000" stroke="#000" stroke-width="0.8"/><path d="M549.9,532.1 L549.0,530.5 L549.8,522.3 L550.1,522.9 Z" fill="#000" stroke="#000" stroke-width="0.8"/><path d="M549.0,530.5 L548.1,528.9 L549.5,521.8 L549.8,522.3 Z" fill="#000" stroke="#000" stroke-width="0.8"/><path d="M548.1,528.9 L547.3,527.2 L549.3,521.2 L549.5,521.8 Z" fill="#000" stroke="#000" stroke-width="0.8"/><path d="M547.3,527.2 L546.5,525.4 L549.0,520.7 L549.3,521.2 Z" fill="#000" stroke="#000" stroke-width="0.8"/><path d="M546.5,525.4 L545.8,523.7 L548.8,520.1 L549.0,520.7 Z" fill="#000" stroke="#000" stroke-width="0.8"/><path d="M545.8,523.7 L545.2,521.9 L548.6,519.5 L548.8,520.1 Z" fill="#000" stroke="#000" stroke-width="0.8"/><path d="M545.2,521.9 L544.6,520.1 L548.4,518.9 L548.6,519.5 Z" fill="#000" stroke="#000" stroke-width="0.8"/><path d="M544.6,520.1 L544.1,518.2 L548.2,518.3 L548.4,518.9 Z" fill="#000" stroke="#000" stroke-width="0.8"/><path d="M544.1,518.2 L543.6,516.4 L548.0,517.7 L548.2,518.3 Z" fill="#000" stroke="#000" stroke-width="0.8"/><path d="M543.6,516.4 L543.2,514.5 L547.9,517.1 L548.0,517.7 Z" fill="#000" stroke="#000" stroke-width="0.8"/><path d="M543.2,514.5 L542.8,512.7 L547.8,516.5 L547.9,517.1 Z" fill="#000" stroke="#000" stroke-width="0.8"/><path d="M542.8,512.7 L542.5,510.8 L547.7,515.9 L547.8,516.5 Z" fill="#000" stroke="#000" stroke-width="0.8"/><path d="M542.5,510.8 L542.3,509.0 L547.6,515.2 L547.7,515.9 Z" fill="#000" stroke="#000" stroke-width="0.8"/><path d="M542.3,509.0 L542.1,507.2 L547.5,514.6 L547.6,515.2 Z" fill="#000" stroke="#000" stroke-width="0.8"/><path d="M542.1,507.2 L542.0,505.3 L547.5,514.0 L547.5,514.6 Z" fill="#000" stroke="#000" stroke-width="0.8"/><path d="M542.0,505.3 L541.9,503.5 L547.5,513.4 L547.5,514.0 Z" fill="#000" stroke="#000" stroke-width="0.8"/><path d="M541.9,503.5 L542.0,501.8 L547.5,512.9 L547.5,513.4 Z" fill="#000" stroke="#000" stroke-width="0.8"/><path d="M542.0,501.8 L542.1,500.0 L547.5,512.3 L547.5,512.9 Z" fill="#000" stroke="#000" stroke-width="0.8"/><path d="M542.1,500.0 L542.2,498.3 L547.6,511.7 L547.5,512.3 Z" fill="#000" stroke="#000" stroke-width="0.8"/><path d="M542.2,498.3 L542.4,496.7 L547.6,511.2 L547.6,511.7 Z" fill="#000" stroke="#000" stroke-width="0.8"/><path d="M542.4,496.7 L542.7,495.1 L547.7,510.7 L547.6,511.2 Z" fill="#000" stroke="#000" stroke-width="0.8"/><path d="M542.7,495.1 L543.0,493.5 L547.9,510.1 L547.7,510.7 Z" fill="#000" stroke="#000" stroke-width="0.8"/><path d="M543.0,493.5 L543.4,492.0 L548.0,509.6 L547.9,510.1 Z" fill="#000" stroke="#000" stroke-width="0.8"/><path d="M543.4,492.0 L543.9,490.6 L548.1,509.2 L548.0,509.6 Z" fill="#000" stroke="#000" stroke-width="0.8"/><path d="M543.9,490.6 L544.4,489.2 L548.3,508.7 L548.1,509.2 Z" fill="#000" stroke="#000" stroke-width="0.8"/><path d="M544.4,489.2 L545.0,487.9 L548.5,508.3 L548.3,508.7 Z" fill="#000" stroke="#000" stroke-width="0.8"/><path d="M545.0,487.9 L545.6,486.6 L548.7,507.9 L548.5,508.3 Z" fill="#000" stroke="#000" stroke-width="0.8"/><path d="M545.6,486.6 L546.3,485.5 L548.9,507.5 L548.7,507.9 Z" fill="#000" stroke="#000" stroke-width="0.8"/><path d="M546.3,485.5 L547.1,484.4 L549.2,507.1 L548.9,507.5 Z" fill="#000" stroke="#000" stroke-width="0.8"/><path d="M547.1,484.4 L547.9,483.4 L549.4,506.8 L549.2,507.1 Z" fill="#000" stroke="#000" stroke-width="0.8"/><path d="M547.9,483.4 L548.7,482.4 L549.7,506.5 L549.4,506.8 Z" fill="#000" stroke="#000" stroke-width="0.8"/><path d="M548.7,482.4 L549.6,481.6 L550.0,506.2 L549.7,506.5 Z" fill="#000" stroke="#000" stroke-width="0.8"/><path d="M549.6,481.6 L550.5,480.8 L550.3,505.9 L550.0,506.2 Z" fill="#000" stroke="#000" stroke-width="0.8"/><path d="M550.5,480.8 L551.5,480.2 L550.6,505.7 L550.3,505.9 Z" fill="#000" stroke="#000" stroke-width="0.8"/><path d="M551.5,480.2 L552.5,479.6 L551.0,505.5 L550.6,505.7 Z" fill="#000" stroke="#000" stroke-width="0.8"/><path d="M552.5,479.6 L553.6,479.1 L551.3,505.4 L551.0,505.5 Z" fill="#000" stroke="#000" stroke-width="0.8"/><path d="M553.6,479.1 L554.6,478.7 L551.7,505.3 L551.3,505.4 Z" fill="#000" stroke="#000" stroke-width="0.8"/><path d="M554.6,478.7 L555.8,478.4 L552.0,505.2 L551.7,505.3 Z" fill="#000" stroke="#000" stroke-width="0.8"/><path d="M555.8,478.4 L556.9,478.2 L552.4,505.1 L552.0,505.2 Z" fill="#000" stroke="#000" stroke-width="0.8"/><path d="M556.9,478.2 L558.1,478.1 L552.8,505.1 L552.4,505.1 Z" fill="#000" stroke="#000" stroke-width="0.8"/><path d="M558.1,478.1 L559.2,478.1 L553.2,505.1 L552.8,505.1 Z" fill="#000" stroke="#000" stroke-width="0.8"/><path d="M559.2,478.1 L560.4,478.2 L553.6,505.1 L553.2,505.1 Z" fill="#000" stroke="#000" stroke-width="0.8"/><path d="M560.4,478.2 L561.6,478.4 L554.0,505.2 L553.6,505.1 Z" fill="#000" stroke="#000" stroke-width="0.8"/><path d="M561.6,478.4 L562.9,478.7 L554.4,505.2 L554.0,505.2 Z" fill="#000" stroke="#000" stroke-width="0.8"/><path d="M562.9,478.7 L564.1,479.1 L554.8,505.4 L554.4,505.2 Z" fill="#000" stroke="#000" stroke-width="0.8"/><path d="M564.1,479.1 L565.3,479.6 L555.2,505.5 L554.8,505.4 Z" fill="#000" stroke="#000" stroke-width="0.8"/><path d="M565.3,479.6 L566.6,480.1 L555.6,505.7 L555.2,505.5 Z" fill="#000" stroke="#000" stroke-width="0.8"/><path d="M566.6,480.1 L567.8,480.8 L556.0,505.9 L555.6,505.7 Z" fill="#000" stroke="#000" stroke-width="0.8"/><path d="M567.8,480.8 L569.0,481.5 L556.4,506.2 L556.0,505.9 Z" fill="#000" stroke="#000" stroke-width="0.8"/><path d="M569.0,481.5 L570.2,482.4 L556.8,506.5 L556.4,506.2 Z" fill="#000" stroke="#000" stroke-width="0.8"/><path d="M570.2,482.4 L571.4,483.3 L557.2,506.8 L556.8,506.5 Z" fill="#000" stroke="#000" stroke-width="0.8"/><path d="M571.4,483.3 L572.6,484.3 L557.6,507.1 L557.2,506.8 Z" fill="#000" stroke="#000" stroke-width="0.8"/><path d="M572.6,484.3 L573.8,485.4 L558.0,507.5 L557.6,507.1 Z" fill="#000" stroke="#000" stroke-width="0.8"/><path d="M573.8,485.4 L574.9,486.6 L558.4,507.8 L558.0,507.5 Z" fill="#000" stroke="#000" stroke-width="0.8"/><path d="M574.9,486.6 L576.0,487.8 L558.7,508.3 L558.4,507.8 Z" fill="#000" stroke="#000" stroke-width="0.8"/><path d="M576.0,487.8 L577.1,489.1 L559.1,508.7 L558.7,508.3 Z" fill="#000" stroke="#000" stroke-width="0.8"/><path d="M577.1,489.1 L578.2,490.5 L559.4,509.1 L559.1,508.7 Z" fill="#000" stroke="#000" stroke-width="0.8"/><path d="M578.2,490.5 L579.2,491.9 L559.8,509.6 L559.4,509.1 Z" fill="#000" stroke="#000" stroke-width="0.8"/><path d="M579.2,491.9 L580.2,493.4 L560.1,510.1 L559.8,509.6 Z" fill="#000" stroke="#000" stroke-width="0.8"/><path d="M580.2,493.4 L581.1,495.0 L560.4,510.6 L560.1,510.1 Z" fill="#000" stroke="#000" stroke-width="0.8"/><path d="M581.1,495.0 L582.0,496.6 L560.7,511.2 L560.4,510.6 Z" fill="#000" stroke="#000" stroke-width="0.8"/><path d="M582.0,496.6 L582.9,498.3 L561.0,511.7 L560.7,511.2 Z" fill="#000" stroke="#000" stroke-width="0.8"/><path d="M582.9,498.3 L583.7,499.9 L561.3,512.3 L561.0,511.7 Z" fill="#000" stroke="#000" stroke-width="0.8"/><path d="M583.7,499.9 L584.5,501.7 L561.5,512.8 L561.3,512.3 Z" fill="#000" stroke="#000" stroke-width="0.8"/><path d="M584.5,501.7 L585.2,503.4 L561.8,513.4 L561.5,512.8 Z" fill="#000" stroke="#000" stroke-width="0.8"/><path d="M585.2,503.4 L585.8,505.2 L562.0,514.0 L561.8,513.4 Z" fill="#000" stroke="#000" stroke-width="0.8"/><path d="M585.8,505.2 L586.4,507.1 L562.2,514.6 L562.0,514.0 Z" fill="#000" stroke="#000" stroke-width="0.8"/><path d="M586.4,507.1 L586.9,508.9 L562.3,515.2 L562.2,514.6 Z" fill="#000" stroke="#000" stroke-width="0.8"/><path d="M586.9,508.9 L587.4,510.7 L562.5,515.8 L562.3,515.2 Z" fill="#000" stroke="#000" stroke-width="0.8"/><path d="M587.4,510.7 L587.8,512.6 L562.6,516.4 L562.5,515.8 Z" fill="#000" stroke="#000" stroke-width="0.8"/><path d="M587.8,512.6 L588.2,514.4 L562.8,517.0 L562.6,516.4 Z" fill="#000" stroke="#000" stroke-width="0.8"/><path d="M588.2,514.4 L588.5,516.3 L562.9,517.7 L562.8,517.0 Z" fill="#000" stroke="#000" stroke-width="0.8"/><path d="M588.5,516.3 L588.7,518.1 L562.9,518.3 L562.9,517.7 Z" fill="#000" stroke="#000" stroke-width="0.8"/><path d="M588.7,518.1 L588.9,520.0 L563.0,518.9 L562.9,518.3 Z" fill="#000" stroke="#000" stroke-width="0.8"/><path d="M588.9,520.0 L589.0,521.8 L563.0,519.5 L563.0,518.9 Z" fill="#000" stroke="#000" stroke-width="0.8"/><path d="M589.0,521.8 L589.1,523.6 L563.0,520.1 L563.0,519.5 Z" fill="#000" stroke="#000" stroke-width="0.8"/><path d="M589.1,523.6 L589.0,525.3 L563.0,520.6 L563.0,520.1 Z" fill="#000" stroke="#000" stroke-width="0.8"/><path d="M589.0,525.3 L588.9,527.1 L563.0,521.2 L563.0,520.6 Z" fill="#000" stroke="#000" stroke-width="0.8"/><path d="M588.9,527.1 L588.8,528.8 L563.0,521.8 L563.0,521.2 Z" fill="#000" stroke="#000" stroke-width="0.8"/><path d="M588.8,528.8 L588.6,530.4 L562.9,522.3 L563.0,521.8 Z" fill="#000" stroke="#000" stroke-width="0.8"/><path d="M588.6,530.4 L588.3,532.0 L562.8,522.8 L562.9,522.3 Z" fill="#000" stroke="#000" stroke-width="0.8"/><path d="M588.3,532.0 L588.0,533.6 L562.7,523.4 L562.8,522.8 Z" fill="#000" stroke="#000" stroke-width="0.8"/><path d="M588.0,533.6 L587.6,535.1 L562.5,523.9 L562.7,523.4 Z" fill="#000" stroke="#000" stroke-width="0.8"/><path d="M587.6,535.1 L587.1,536.5 L562.4,524.3 L562.5,523.9 Z" fill="#000" stroke="#000" stroke-width="0.8"/><path d="M587.1,536.5 L586.6,537.9 L562.2,524.8 L562.4,524.3 Z" fill="#000" stroke="#000" stroke-width="0.8"/><path d="M586.6,537.9 L586.0,539.2 L562.0,525.2 L562.2,524.8 Z" fill="#000" stroke="#000" stroke-width="0.8"/><path d="M586.0,539.2 L585.4,540.5 L561.8,525.6 L562.0,525.2 Z" fill="#000" stroke="#000" stroke-width="0.8"/><path d="M585.4,540.5 L584.7,541.7 L561.6,526.0 L561.8,525.6 Z" fill="#000" stroke="#000" stroke-width="0.8"/><path d="M584.7,541.7 L583.9,542.8 L561.3,526.4 L561.6,526.0 Z" fill="#000" stroke="#000" stroke-width="0.8"/><path d="M583.9,542.8 L583.1,543.8 L561.1,526.7 L561.3,526.4 Z" fill="#000" stroke="#000" stroke-width="0.8"/><path d="M583.1,543.8 L582.3,544.7 L560.8,527.0 L561.1,526.7 Z" fill="#000" stroke="#000" stroke-width="0.8"/><path d="M582.3,544.7 L581.4,545.5 L560.5,527.3 L560.8,527.0 Z" fill="#000" stroke="#000" stroke-width="0.8"/><path d="M581.4,545.5 L580.5,546.3 L560.2,527.6 L560.5,527.3 Z" fill="#000" stroke="#000" stroke-width="0.8"/><path d="M580.5,546.3 L579.5,547.0 L559.9,527.8 L560.2,527.6 Z" fill="#000" stroke="#000" stroke-width="0.8"/><path d="M579.5,547.0 L578.5,547.5 L559.5,528.0 L559.9,527.8 Z" fill="#000" stroke="#000" stroke-width="0.8"/><path d="M578.5,547.5 L577.4,548.0 L559.2,528.1 L559.5,528.0 Z" fill="#000" stroke="#000" stroke-width="0.8"/><path d="M577.4,548.0 L576.4,548.4 L558.8,528.3 L559.2,528.1 Z" fill="#000" stroke="#000" stroke-width="0.8"/><path d="M548.3,520.3 L544.5,524.3 L543.6,523.6 L542.9,522.8 L542.2,521.9 L541.8,520.9 L541.6,519.9 L541.6,518.8 L541.8,517.7 L542.1,516.6 L547.5,517.8 Z" fill="#fff" stroke="#000" stroke-width="1.7" stroke-linejoin="round"/><path d="M550.1,523.8 L549.8,535.0 L548.9,534.7 L548.1,534.2 L547.4,533.6 L546.8,532.8 L546.4,531.8 L546.1,530.6 L546.1,529.4 L546.1,528.1 L548.9,521.6 Z" fill="#fff" stroke="#000" stroke-width="1.7" stroke-linejoin="round"/><path d="M547.3,516.4 L541.2,512.6 L540.5,511.6 L539.9,510.5 L539.4,509.4 L539.2,508.4 L539.2,507.4 L539.4,506.4 L539.8,505.6 L540.4,504.8 L547.0,513.9 Z" fill="#fff" stroke="#000" stroke-width="1.7" stroke-linejoin="round"/><path d="M547.0,512.6 L540.4,500.9 L539.8,499.7 L539.4,498.5 L539.1,497.3 L539.1,496.3 L539.3,495.5 L539.8,494.8 L540.4,494.3 L541.1,493.9 L547.2,510.2 Z" fill="#fff" stroke="#000" stroke-width="1.7" stroke-linejoin="round"/><path d="M552.3,526.7 L556.6,543.6 L555.8,543.7 L555.0,543.6 L554.2,543.3 L553.6,542.7 L553.0,541.9 L552.6,540.8 L552.2,539.6 L552.0,538.2 L550.8,524.9 Z" fill="#fff" stroke="#000" stroke-width="1.7" stroke-linejoin="round"/><path d="M547.5,509.1 L541.9,490.5 L541.6,489.2 L541.5,487.9 L541.4,486.8 L541.6,486.0 L542.1,485.3 L542.7,485.0 L543.4,484.8 L544.3,484.8 L548.3,507.3 Z" fill="#fff" stroke="#000" stroke-width="1.7" stroke-linejoin="round"/><path d="M554.9,528.5 L564.3,549.3 L563.7,549.8 L562.9,550.1 L562.2,550.1 L561.5,549.8 L560.9,549.2 L560.3,548.3 L559.7,547.2 L559.2,545.9 L553.2,527.4 Z" fill="#fff" stroke="#000" stroke-width="1.7" stroke-linejoin="round"/><path d="M548.8,506.5 L545.8,482.4 L545.8,481.1 L545.9,479.9 L546.1,479.0 L546.5,478.3 L547.1,478.0 L547.8,478.0 L548.6,478.2 L549.5,478.6 L550.0,505.2 Z" fill="#fff" stroke="#000" stroke-width="1.7" stroke-linejoin="round"/><path d="M557.5,529.2 L572.2,551.4 L571.7,552.3 L571.1,552.9 L570.5,553.3 L569.9,553.4 L569.2,553.1 L568.5,552.4 L567.7,551.5 L567.0,550.4 L555.8,528.9 Z" fill="#fff" stroke="#000" stroke-width="1.7" stroke-linejoin="round"/><path d="M550.7,504.8 L551.7,477.2 L551.9,476.1 L552.2,475.2 L552.7,474.5 L553.2,474.1 L553.9,474.1 L554.6,474.4 L555.4,475.0 L556.3,475.8 L552.2,504.3 Z" fill="#fff" stroke="#000" stroke-width="1.7" stroke-linejoin="round"/><path d="M559.8,528.7 L579.3,549.9 L579.1,551.0 L578.8,552.0 L578.3,552.7 L577.8,553.0 L577.1,553.0 L576.4,552.7 L575.6,552.1 L574.7,551.3 L558.3,529.2 Z" fill="#fff" stroke="#000" stroke-width="1.7" stroke-linejoin="round"/><path d="M553.1,504.3 L558.8,475.7 L559.3,474.9 L559.9,474.2 L560.5,473.8 L561.1,473.7 L561.8,474.1 L562.5,474.7 L563.3,475.6 L564.0,476.7 L554.8,504.6 Z" fill="#fff" stroke="#000" stroke-width="1.7" stroke-linejoin="round"/><path d="M561.8,527.1 L585.2,544.8 L585.2,546.0 L585.1,547.2 L584.9,548.2 L584.5,548.8 L583.9,549.2 L583.2,549.2 L582.4,548.9 L581.5,548.5 L560.5,528.3 Z" fill="#fff" stroke="#000" stroke-width="1.7" stroke-linejoin="round"/><path d="M555.6,505.0 L566.7,477.9 L567.3,477.4 L568.1,477.1 L568.8,477.0 L569.5,477.3 L570.1,477.9 L570.7,478.8 L571.3,480.0 L571.8,481.2 L557.3,506.1 Z" fill="#fff" stroke="#000" stroke-width="1.7" stroke-linejoin="round"/><path d="M563.0,524.4 L589.1,536.6 L589.4,537.9 L589.5,539.2 L589.6,540.3 L589.4,541.2 L588.9,541.8 L588.3,542.2 L587.6,542.3 L586.7,542.3 L562.3,526.2 Z" fill="#fff" stroke="#000" stroke-width="1.7" stroke-linejoin="round"/><path d="M558.2,506.8 L574.4,483.5 L575.2,483.4 L576.0,483.5 L576.8,483.8 L577.4,484.4 L578.0,485.2 L578.4,486.3 L578.8,487.6 L579.0,488.9 L559.7,508.6 Z" fill="#fff" stroke="#000" stroke-width="1.7" stroke-linejoin="round"/><path d="M563.6,520.9 L590.6,526.2 L591.2,527.4 L591.6,528.6 L591.9,529.8 L591.9,530.8 L591.7,531.7 L591.2,532.3 L590.6,532.9 L589.9,533.3 L563.3,523.3 Z" fill="#fff" stroke="#000" stroke-width="1.7" stroke-linejoin="round"/><path d="M560.5,509.7 L581.2,492.1 L582.1,492.4 L582.9,492.9 L583.6,493.5 L584.2,494.4 L584.6,495.4 L584.9,496.5 L584.9,497.7 L584.9,499.0 L561.7,511.9 Z" fill="#fff" stroke="#000" stroke-width="1.7" stroke-linejoin="round"/><path d="M563.3,517.1 L589.8,514.5 L590.5,515.6 L591.1,516.6 L591.6,517.7 L591.8,518.7 L591.8,519.7 L591.6,520.7 L591.2,521.5 L590.6,522.3 L563.6,519.6 Z" fill="#fff" stroke="#000" stroke-width="1.7" stroke-linejoin="round"/><path d="M562.2,513.2 L586.5,502.8 L587.4,503.5 L588.1,504.3 L588.8,505.2 L589.2,506.2 L589.4,507.2 L589.4,508.3 L589.2,509.4 L588.9,510.5 L563.0,515.7 Z" fill="#fff" stroke="#000" stroke-width="1.7" stroke-linejoin="round"/><ellipse cx="555.3" cy="516.8" rx="12.5" ry="7.5" transform="rotate(72.70 555.3 516.8)" fill="#000" stroke="#000" stroke-width="1.2" /><path d="M736.4,554.4 L734.9,555.0 L737.9,563.5 L734.8,564.5 L732.5,555.8 L730.9,556.2 L729.3,556.4 L731.7,565.1 L728.5,565.4 L726.7,556.6 L725.1,556.7 L723.4,556.6 L725.3,565.3 L721.9,564.9 L720.7,556.3 L719.0,556.0 L717.3,555.6 L718.5,564.2 L715.1,563.2 L714.5,554.8 L712.8,554.1 L711.0,553.4 L711.7,561.9 L708.2,560.2 L708.2,552.1 L706.4,551.1 L704.7,550.0 L704.7,558.2 L701.2,555.9 L701.9,548.2 L700.1,546.9 L698.4,545.6 L697.8,553.4 L694.4,550.5 L695.6,543.3 L693.9,541.7 L692.2,540.1 L691.0,547.4 L687.6,543.9 L689.5,537.3 L687.8,535.5 L686.2,533.6 L684.4,540.3 L681.2,536.3 L683.6,530.5 L682.0,528.4 L680.4,526.2 L678.1,532.2 L675.1,527.8 L678.0,522.7 L676.5,520.4 L675.1,518.1 L672.1,523.3 L669.4,518.5 L672.8,514.3 L671.4,511.8 L670.1,509.2 L666.7,513.6 L664.2,508.5 L668.1,505.2 L666.8,502.5 L665.6,499.9 L661.8,503.3 L659.5,498.0 L663.9,495.6 L662.8,492.8 L661.7,490.0 L657.5,492.5 L655.5,487.0 L660.2,485.6 L659.3,482.8 L658.4,479.9 L653.8,481.4 L652.3,475.8 L657.2,475.4 L656.5,472.5 L655.8,469.7 L650.9,470.2 L649.7,464.5 L654.8,465.1 L654.3,462.2 L653.8,459.4 L648.7,458.8 L647.9,453.2 L653.2,454.9 L652.8,452.0 L652.6,449.2 L647.3,447.7 L646.9,442.2 L652.2,444.8 L652.1,442.0 L652.0,439.3 L646.7,436.8 L646.7,431.5 L652.0,435.0 L652.1,432.4 L652.2,429.7 L646.9,426.3 L647.3,421.2 L652.6,425.7 L652.8,423.2 L653.2,420.7 L647.9,416.4 L648.7,411.7 L653.8,417.0 L654.3,414.6 L654.8,412.4 L649.7,407.1 L650.9,402.8 L655.8,408.9 L656.5,406.8 L657.2,404.7 L652.3,398.7 L653.8,394.9 L658.5,401.7 L659.3,399.8 L660.2,398.0 L655.6,391.3 L657.5,387.9 L661.8,395.3 L662.8,393.7 L663.9,392.2 L659.6,384.9 L661.8,382.1 L665.7,389.9 L666.9,388.6 L668.1,387.4 L664.2,379.6 L666.7,377.4 L670.1,385.6 L671.5,384.6 L672.9,383.7 L669.4,375.5 L672.2,373.9 L675.1,382.4 L676.6,381.7 L678.1,381.1 L675.1,372.6 L678.1,371.7 L680.5,380.4 L682.1,380.0 L683.7,379.8 L681.2,371.1 L684.4,370.8 L686.2,379.5 L687.9,379.5 L689.5,379.6 L687.7,370.9 L691.0,371.2 L692.2,379.9 L693.9,380.2 L695.7,380.6 L694.4,371.9 L697.8,373.0 L698.4,381.4 L700.2,382.1 L701.9,382.8 L701.3,374.3 L704.8,376.0 L704.7,384.1 L706.5,385.1 L708.3,386.1 L708.2,377.9 L711.7,380.2 L711.1,388.0 L712.8,389.2 L714.6,390.6 L715.2,382.8 L718.6,385.7 L717.3,392.9 L719.1,394.5 L720.8,396.1 L722.0,388.8 L725.3,392.2 L723.4,398.8 L725.1,400.7 L726.8,402.6 L728.6,395.9 L731.8,399.8 L729.3,405.7 L730.9,407.8 L732.5,410.0 L734.9,404.0 L737.9,408.3 L734.9,413.5 L736.4,415.8 L737.9,418.1 L740.8,412.9 L743.6,417.7 L740.1,421.9 L741.5,424.4 L742.8,426.9 L746.3,422.6 L748.8,427.7 L744.9,431.0 L746.1,433.7 L747.3,436.3 L751.2,432.9 L753.4,438.2 L749.1,440.6 L750.2,443.4 L751.2,446.1 L755.5,443.6 L757.4,449.2 L752.7,450.6 L753.7,453.4 L754.5,456.2 L759.1,454.7 L760.7,460.4 L755.8,460.8 L756.5,463.6 L757.2,466.5 L762.1,466.0 L763.3,471.7 L758.1,471.1 L758.7,473.9 L759.1,476.8 L764.3,477.3 L765.1,483.0 L759.8,481.3 L760.1,484.2 L760.4,487.0 L765.7,488.5 L766.1,494.0 L760.7,491.4 L760.8,494.2 L760.9,496.9 L766.3,499.4 L766.3,504.7 L760.9,501.2 L760.8,503.8 L760.7,506.4 L766.1,509.9 L765.7,514.9 L760.4,510.5 L760.1,513.0 L759.8,515.5 L765.0,519.8 L764.2,524.5 L759.1,519.2 L758.6,521.6 L758.1,523.8 L763.2,529.0 L762.1,533.3 L757.1,527.3 L756.5,529.4 L755.7,531.4 L760.7,537.4 L759.1,541.3 L754.5,534.5 L753.6,536.4 L752.7,538.2 L757.4,544.9 L755.5,548.2 L751.2,540.9 L750.1,542.5 L749.1,544.0 L753.4,551.3 L751.1,554.1 L747.3,546.2 L746.1,547.6 L744.8,548.8 L748.8,556.6 L746.2,558.8 L742.8,550.6 L741.5,551.6 L740.1,552.5 L743.6,560.7 L740.8,562.3 L737.8,553.8 Z" fill="#fff" stroke="#000" stroke-width="1.6" stroke-linejoin="round"/><path d="M649.2,505.0 L645.3,508.4 L661.8,503.3 L665.6,499.9 Z" fill="#000" stroke="#000" stroke-width="1.6" stroke-linejoin="round"/><path d="M633.2,469.6 L638.4,470.3 L654.8,465.1 L649.7,464.5 Z" fill="#000" stroke="#000" stroke-width="1.6" stroke-linejoin="round"/><path d="M631.4,458.4 L636.7,460.0 L653.2,454.9 L647.9,453.2 Z" fill="#000" stroke="#000" stroke-width="1.6" stroke-linejoin="round"/><path d="M653.6,514.4 L650.2,518.7 L666.7,513.6 L670.1,509.2 Z" fill="#000" stroke="#000" stroke-width="1.6" stroke-linejoin="round"/><path d="M630.4,447.3 L635.8,449.9 L652.2,444.8 L646.9,442.2 Z" fill="#000" stroke="#000" stroke-width="1.6" stroke-linejoin="round"/><path d="M658.6,523.2 L655.7,528.4 L672.1,523.3 L675.1,518.1 Z" fill="#000" stroke="#000" stroke-width="1.6" stroke-linejoin="round"/><path d="M630.2,436.6 L635.6,440.2 L652.0,435.0 L646.7,431.5 Z" fill="#000" stroke="#000" stroke-width="1.6" stroke-linejoin="round"/><path d="M664.0,531.4 L661.6,537.3 L678.1,532.2 L680.4,526.2 Z" fill="#000" stroke="#000" stroke-width="1.6" stroke-linejoin="round"/><path d="M630.8,426.4 L636.1,430.8 L652.6,425.7 L647.3,421.2 Z" fill="#000" stroke="#000" stroke-width="1.6" stroke-linejoin="round"/><path d="M669.7,538.7 L667.9,545.4 L684.4,540.3 L686.2,533.6 Z" fill="#000" stroke="#000" stroke-width="1.6" stroke-linejoin="round"/><path d="M632.2,416.8 L637.4,422.1 L653.8,417.0 L648.7,411.7 Z" fill="#fff" stroke="#000" stroke-width="1.6" stroke-linejoin="round"/><path d="M675.7,545.2 L674.5,552.5 L691.0,547.4 L692.2,540.1 Z" fill="#fff" stroke="#000" stroke-width="1.6" stroke-linejoin="round"/><path d="M634.4,408.0 L639.3,414.0 L655.8,408.9 L650.9,402.8 Z" fill="#fff" stroke="#000" stroke-width="1.6" stroke-linejoin="round"/><path d="M681.9,550.7 L681.3,558.5 L697.8,553.4 L698.4,545.6 Z" fill="#fff" stroke="#000" stroke-width="1.6" stroke-linejoin="round"/><path d="M637.4,400.0 L642.0,406.8 L658.5,401.7 L653.8,394.9 Z" fill="#fff" stroke="#000" stroke-width="1.6" stroke-linejoin="round"/><path d="M688.2,555.2 L688.2,563.4 L704.7,558.2 L704.7,550.0 Z" fill="#fff" stroke="#000" stroke-width="1.6" stroke-linejoin="round"/><path d="M641.0,393.1 L645.3,400.4 L661.8,395.3 L657.5,387.9 Z" fill="#fff" stroke="#000" stroke-width="1.6" stroke-linejoin="round"/><path d="M694.5,558.5 L695.2,567.0 L711.7,561.9 L711.0,553.4 Z" fill="#fff" stroke="#000" stroke-width="1.6" stroke-linejoin="round"/><path d="M645.3,387.2 L649.2,395.1 L665.7,389.9 L661.8,382.1 Z" fill="#fff" stroke="#000" stroke-width="1.6" stroke-linejoin="round"/><path d="M700.8,560.7 L702.1,569.4 L718.5,564.2 L717.3,555.6 Z" fill="#fff" stroke="#000" stroke-width="1.6" stroke-linejoin="round"/><path d="M650.3,382.5 L653.7,390.7 L670.1,385.6 L666.7,377.4 Z" fill="#fff" stroke="#000" stroke-width="1.6" stroke-linejoin="round"/><path d="M706.9,561.7 L708.8,570.5 L725.3,565.3 L723.4,556.6 Z" fill="#fff" stroke="#000" stroke-width="1.6" stroke-linejoin="round"/><path d="M655.7,379.0 L658.6,387.6 L675.1,382.4 L672.2,373.9 Z" fill="#fff" stroke="#000" stroke-width="1.6" stroke-linejoin="round"/><path d="M712.8,561.6 L715.3,570.2 L731.7,565.1 L729.3,556.4 Z" fill="#fff" stroke="#000" stroke-width="1.6" stroke-linejoin="round"/><path d="M661.6,376.8 L664.0,385.5 L680.5,380.4 L678.1,371.7 Z" fill="#fff" stroke="#000" stroke-width="1.6" stroke-linejoin="round"/><path d="M718.4,560.2 L721.4,568.7 L737.9,563.5 L734.9,555.0 Z" fill="#fff" stroke="#000" stroke-width="1.6" stroke-linejoin="round"/><path d="M723.6,557.6 L727.1,565.8 L743.6,560.7 L740.1,552.5 Z" fill="#fff" stroke="#000" stroke-width="1.6" stroke-linejoin="round"/><path d="M667.9,375.9 L669.7,384.7 L686.2,379.5 L684.4,370.8 Z" fill="#fff" stroke="#000" stroke-width="1.6" stroke-linejoin="round"/><path d="M725.0,556.7 L723.6,557.6 L740.1,552.5 L741.5,551.6 Z" fill="#000" stroke="#000" stroke-width="1.6" stroke-linejoin="round"/><path d="M669.7,384.7 L671.4,384.6 L687.9,379.5 L686.2,379.5 Z" fill="#000" stroke="#000" stroke-width="1.6" stroke-linejoin="round"/><path d="M726.3,555.7 L725.0,556.7 L741.5,551.6 L742.8,550.6 Z" fill="#000" stroke="#000" stroke-width="1.6" stroke-linejoin="round"/><path d="M671.4,384.6 L673.1,384.7 L689.5,379.6 L687.9,379.5 Z" fill="#000" stroke="#000" stroke-width="1.6" stroke-linejoin="round"/><path d="M671.2,376.0 L674.5,376.4 L691.0,371.2 L687.7,370.9 Z" fill="#fff" stroke="#000" stroke-width="1.6" stroke-linejoin="round"/><path d="M732.3,561.7 L729.7,563.9 L746.2,558.8 L748.8,556.6 Z" fill="#fff" stroke="#000" stroke-width="1.6" stroke-linejoin="round"/><path d="M674.5,376.4 L675.7,385.0 L692.2,379.9 L691.0,371.2 Z" fill="#fff" stroke="#000" stroke-width="1.6" stroke-linejoin="round"/><path d="M728.4,553.9 L732.3,561.7 L748.8,556.6 L744.8,548.8 Z" fill="#fff" stroke="#000" stroke-width="1.6" stroke-linejoin="round"/><path d="M729.6,552.7 L728.4,553.9 L744.8,548.8 L746.1,547.6 Z" fill="#000" stroke="#000" stroke-width="1.6" stroke-linejoin="round"/><path d="M675.7,385.0 L677.5,385.3 L693.9,380.2 L692.2,379.9 Z" fill="#000" stroke="#000" stroke-width="1.6" stroke-linejoin="round"/><path d="M730.8,551.4 L729.6,552.7 L746.1,547.6 L747.3,546.2 Z" fill="#000" stroke="#000" stroke-width="1.6" stroke-linejoin="round"/><path d="M677.5,385.3 L679.2,385.7 L695.7,380.6 L693.9,380.2 Z" fill="#000" stroke="#000" stroke-width="1.6" stroke-linejoin="round"/><path d="M736.9,556.4 L734.7,559.2 L751.1,554.1 L753.4,551.3 Z" fill="#fff" stroke="#000" stroke-width="1.6" stroke-linejoin="round"/><path d="M677.9,377.1 L681.4,378.1 L697.8,373.0 L694.4,371.9 Z" fill="#fff" stroke="#000" stroke-width="1.6" stroke-linejoin="round"/><path d="M733.7,547.6 L732.6,549.1 L749.1,544.0 L750.1,542.5 Z" fill="#000" stroke="#000" stroke-width="1.6" stroke-linejoin="round"/><path d="M681.9,386.5 L683.7,387.2 L700.2,382.1 L698.4,381.4 Z" fill="#000" stroke="#000" stroke-width="1.6" stroke-linejoin="round"/><path d="M732.6,549.1 L736.9,556.4 L753.4,551.3 L749.1,544.0 Z" fill="#fff" stroke="#000" stroke-width="1.6" stroke-linejoin="round"/><path d="M681.4,378.1 L681.9,386.5 L698.4,381.4 L697.8,373.0 Z" fill="#fff" stroke="#000" stroke-width="1.6" stroke-linejoin="round"/><path d="M734.7,546.0 L733.7,547.6 L750.1,542.5 L751.2,540.9 Z" fill="#000" stroke="#000" stroke-width="1.6" stroke-linejoin="round"/><path d="M683.7,387.2 L685.5,387.9 L701.9,382.8 L700.2,382.1 Z" fill="#000" stroke="#000" stroke-width="1.6" stroke-linejoin="round"/><path d="M737.1,541.5 L736.2,543.3 L752.7,538.2 L753.6,536.4 Z" fill="#000" stroke="#000" stroke-width="1.6" stroke-linejoin="round"/><path d="M688.2,389.3 L690.0,390.2 L706.5,385.1 L704.7,384.1 Z" fill="#000" stroke="#000" stroke-width="1.6" stroke-linejoin="round"/><path d="M684.8,379.4 L688.3,381.1 L704.8,376.0 L701.3,374.3 Z" fill="#fff" stroke="#000" stroke-width="1.6" stroke-linejoin="round"/><path d="M740.9,550.0 L739.0,553.4 L755.5,548.2 L757.4,544.9 Z" fill="#fff" stroke="#000" stroke-width="1.6" stroke-linejoin="round"/><path d="M688.3,381.1 L688.2,389.3 L704.7,384.1 L704.8,376.0 Z" fill="#fff" stroke="#000" stroke-width="1.6" stroke-linejoin="round"/><path d="M736.2,543.3 L740.9,550.0 L757.4,544.9 L752.7,538.2 Z" fill="#fff" stroke="#000" stroke-width="1.6" stroke-linejoin="round"/><path d="M738.0,539.7 L737.1,541.5 L753.6,536.4 L754.5,534.5 Z" fill="#000" stroke="#000" stroke-width="1.6" stroke-linejoin="round"/><path d="M690.0,390.2 L691.8,391.3 L708.3,386.1 L706.5,385.1 Z" fill="#000" stroke="#000" stroke-width="1.6" stroke-linejoin="round"/><path d="M740.0,534.5 L739.3,536.6 L755.7,531.4 L756.5,529.4 Z" fill="#000" stroke="#000" stroke-width="1.6" stroke-linejoin="round"/><path d="M694.6,393.1 L696.4,394.4 L712.8,389.2 L711.1,388.0 Z" fill="#000" stroke="#000" stroke-width="1.6" stroke-linejoin="round"/><path d="M739.3,536.6 L744.2,542.6 L760.7,537.4 L755.7,531.4 Z" fill="#fff" stroke="#000" stroke-width="1.6" stroke-linejoin="round"/><path d="M695.2,385.4 L694.6,393.1 L711.1,388.0 L711.7,380.2 Z" fill="#fff" stroke="#000" stroke-width="1.6" stroke-linejoin="round"/><path d="M744.2,542.6 L742.6,546.4 L759.1,541.3 L760.7,537.4 Z" fill="#fff" stroke="#000" stroke-width="1.6" stroke-linejoin="round"/><path d="M691.8,383.1 L695.2,385.4 L711.7,380.2 L708.2,377.9 Z" fill="#fff" stroke="#000" stroke-width="1.6" stroke-linejoin="round"/><path d="M740.7,532.4 L740.0,534.5 L756.5,529.4 L757.1,527.3 Z" fill="#000" stroke="#000" stroke-width="1.6" stroke-linejoin="round"/><path d="M696.4,394.4 L698.1,395.7 L714.6,390.6 L712.8,389.2 Z" fill="#000" stroke="#000" stroke-width="1.6" stroke-linejoin="round"/><path d="M742.2,526.7 L741.6,529.0 L758.1,523.8 L758.6,521.6 Z" fill="#fff" stroke="#000" stroke-width="1.6" stroke-linejoin="round"/><path d="M700.8,398.0 L702.6,399.6 L719.1,394.5 L717.3,392.9 Z" fill="#fff" stroke="#000" stroke-width="1.6" stroke-linejoin="round"/><path d="M702.1,390.8 L700.8,398.0 L717.3,392.9 L718.6,385.7 Z" fill="#fff" stroke="#000" stroke-width="1.6" stroke-linejoin="round"/><path d="M741.6,529.0 L746.8,534.2 L763.2,529.0 L758.1,523.8 Z" fill="#fff" stroke="#000" stroke-width="1.6" stroke-linejoin="round"/><path d="M742.6,524.4 L742.2,526.7 L758.6,521.6 L759.1,519.2 Z" fill="#fff" stroke="#000" stroke-width="1.6" stroke-linejoin="round"/><path d="M702.6,399.6 L704.3,401.2 L720.8,396.1 L719.1,394.5 Z" fill="#fff" stroke="#000" stroke-width="1.6" stroke-linejoin="round"/><path d="M698.7,387.9 L702.1,390.8 L718.6,385.7 L715.2,382.8 Z" fill="#fff" stroke="#000" stroke-width="1.6" stroke-linejoin="round"/><path d="M746.8,534.2 L745.6,538.5 L762.1,533.3 L763.2,529.0 Z" fill="#fff" stroke="#000" stroke-width="1.6" stroke-linejoin="round"/><path d="M743.6,518.1 L743.3,520.6 L759.8,515.5 L760.1,513.0 Z" fill="#fff" stroke="#000" stroke-width="1.6" stroke-linejoin="round"/><path d="M707.0,404.0 L708.7,405.8 L725.1,400.7 L723.4,398.8 Z" fill="#fff" stroke="#000" stroke-width="1.6" stroke-linejoin="round"/><path d="M743.9,515.6 L743.6,518.1 L760.1,513.0 L760.4,510.5 Z" fill="#fff" stroke="#000" stroke-width="1.6" stroke-linejoin="round"/><path d="M708.7,405.8 L710.3,407.7 L726.8,402.6 L725.1,400.7 Z" fill="#fff" stroke="#000" stroke-width="1.6" stroke-linejoin="round"/><path d="M743.3,520.6 L748.6,525.0 L765.0,519.8 L759.8,515.5 Z" fill="#000" stroke="#000" stroke-width="1.6" stroke-linejoin="round"/><path d="M708.8,397.4 L707.0,404.0 L723.4,398.8 L725.3,392.2 Z" fill="#000" stroke="#000" stroke-width="1.6" stroke-linejoin="round"/><path d="M705.5,394.0 L708.8,397.4 L725.3,392.2 L722.0,388.8 Z" fill="#fff" stroke="#000" stroke-width="1.6" stroke-linejoin="round"/><path d="M748.6,525.0 L747.8,529.7 L764.2,524.5 L765.0,519.8 Z" fill="#fff" stroke="#000" stroke-width="1.6" stroke-linejoin="round"/><path d="M744.4,509.0 L744.2,511.6 L760.7,506.4 L760.8,503.8 Z" fill="#fff" stroke="#000" stroke-width="1.6" stroke-linejoin="round"/><path d="M712.9,410.9 L714.5,412.9 L730.9,407.8 L729.3,405.7 Z" fill="#fff" stroke="#000" stroke-width="1.6" stroke-linejoin="round"/><path d="M744.4,506.3 L744.4,509.0 L760.8,503.8 L760.9,501.2 Z" fill="#fff" stroke="#000" stroke-width="1.6" stroke-linejoin="round"/><path d="M714.5,412.9 L716.0,415.1 L732.5,410.0 L730.9,407.8 Z" fill="#fff" stroke="#000" stroke-width="1.6" stroke-linejoin="round"/><path d="M715.3,405.0 L712.9,410.9 L729.3,405.7 L731.8,399.8 Z" fill="#000" stroke="#000" stroke-width="1.6" stroke-linejoin="round"/><path d="M744.2,511.6 L749.6,515.0 L766.1,509.9 L760.7,506.4 Z" fill="#000" stroke="#000" stroke-width="1.6" stroke-linejoin="round"/><path d="M712.1,401.0 L715.3,405.0 L731.8,399.8 L728.6,395.9 Z" fill="#fff" stroke="#000" stroke-width="1.6" stroke-linejoin="round"/><path d="M749.6,515.0 L749.2,520.1 L765.7,514.9 L766.1,509.9 Z" fill="#fff" stroke="#000" stroke-width="1.6" stroke-linejoin="round"/><path d="M744.4,499.3 L744.4,502.0 L760.9,496.9 L760.8,494.2 Z" fill="#fff" stroke="#000" stroke-width="1.6" stroke-linejoin="round"/><path d="M718.4,418.6 L719.9,420.9 L736.4,415.8 L734.9,413.5 Z" fill="#fff" stroke="#000" stroke-width="1.6" stroke-linejoin="round"/><path d="M744.2,496.5 L744.4,499.3 L760.8,494.2 L760.7,491.4 Z" fill="#fff" stroke="#000" stroke-width="1.6" stroke-linejoin="round"/><path d="M719.9,420.9 L721.4,423.2 L737.9,418.1 L736.4,415.8 Z" fill="#fff" stroke="#000" stroke-width="1.6" stroke-linejoin="round"/><path d="M721.4,413.5 L718.4,418.6 L734.9,413.5 L737.9,408.3 Z" fill="#000" stroke="#000" stroke-width="1.6" stroke-linejoin="round"/><path d="M744.4,502.0 L749.8,504.6 L766.3,499.4 L760.9,496.9 Z" fill="#000" stroke="#000" stroke-width="1.6" stroke-linejoin="round"/><path d="M743.6,489.3 L743.9,492.1 L760.4,487.0 L760.1,484.2 Z" fill="#fff" stroke="#000" stroke-width="1.6" stroke-linejoin="round"/><path d="M723.6,427.0 L725.0,429.5 L741.5,424.4 L740.1,421.9 Z" fill="#fff" stroke="#000" stroke-width="1.6" stroke-linejoin="round"/><path d="M743.3,486.4 L743.6,489.3 L760.1,484.2 L759.8,481.3 Z" fill="#fff" stroke="#000" stroke-width="1.6" stroke-linejoin="round"/><path d="M725.0,429.5 L726.4,432.1 L742.8,426.9 L741.5,424.4 Z" fill="#fff" stroke="#000" stroke-width="1.6" stroke-linejoin="round"/><path d="M718.4,409.1 L721.4,413.5 L737.9,408.3 L734.9,404.0 Z" fill="#fff" stroke="#000" stroke-width="1.6" stroke-linejoin="round"/><path d="M749.8,504.6 L749.8,509.9 L766.3,504.7 L766.3,499.4 Z" fill="#fff" stroke="#000" stroke-width="1.6" stroke-linejoin="round"/><path d="M742.2,479.1 L742.7,481.9 L759.1,476.8 L758.7,473.9 Z" fill="#fff" stroke="#000" stroke-width="1.6" stroke-linejoin="round"/><path d="M728.4,436.1 L729.6,438.8 L746.1,433.7 L744.9,431.0 Z" fill="#fff" stroke="#000" stroke-width="1.6" stroke-linejoin="round"/><path d="M727.1,422.8 L723.6,427.0 L740.1,421.9 L743.6,417.7 Z" fill="#000" stroke="#000" stroke-width="1.6" stroke-linejoin="round"/><path d="M743.9,492.1 L749.2,493.6 L765.7,488.5 L760.4,487.0 Z" fill="#000" stroke="#000" stroke-width="1.6" stroke-linejoin="round"/><path d="M741.6,476.2 L742.2,479.1 L758.7,473.9 L758.1,471.1 Z" fill="#fff" stroke="#000" stroke-width="1.6" stroke-linejoin="round"/><path d="M729.6,438.8 L730.8,441.5 L747.3,436.3 L746.1,433.7 Z" fill="#fff" stroke="#000" stroke-width="1.6" stroke-linejoin="round"/><path d="M740.0,468.8 L740.7,471.7 L757.2,466.5 L756.5,463.6 Z" fill="#fff" stroke="#000" stroke-width="1.6" stroke-linejoin="round"/><path d="M732.6,445.7 L733.7,448.5 L750.2,443.4 L749.1,440.6 Z" fill="#fff" stroke="#000" stroke-width="1.6" stroke-linejoin="round"/><path d="M739.3,465.9 L740.0,468.8 L756.5,463.6 L755.8,460.8 Z" fill="#fff" stroke="#000" stroke-width="1.6" stroke-linejoin="round"/><path d="M733.7,448.5 L734.7,451.3 L751.2,446.1 L750.2,443.4 Z" fill="#fff" stroke="#000" stroke-width="1.6" stroke-linejoin="round"/><path d="M736.3,455.7 L737.2,458.5 L753.7,453.4 L752.7,450.6 Z" fill="#fff" stroke="#000" stroke-width="1.6" stroke-linejoin="round"/><path d="M737.2,458.5 L738.0,461.4 L754.5,456.2 L753.7,453.4 Z" fill="#fff" stroke="#000" stroke-width="1.6" stroke-linejoin="round"/><path d="M724.3,418.0 L727.1,422.8 L743.6,417.7 L740.8,412.9 Z" fill="#fff" stroke="#000" stroke-width="1.6" stroke-linejoin="round"/><path d="M749.2,493.6 L749.6,499.1 L766.1,494.0 L765.7,488.5 Z" fill="#fff" stroke="#000" stroke-width="1.6" stroke-linejoin="round"/><path d="M732.3,432.8 L728.4,436.1 L744.9,431.0 L748.8,427.7 Z" fill="#000" stroke="#000" stroke-width="1.6" stroke-linejoin="round"/><path d="M742.7,481.9 L747.8,482.5 L764.3,477.3 L759.1,476.8 Z" fill="#000" stroke="#000" stroke-width="1.6" stroke-linejoin="round"/><path d="M729.8,427.7 L732.3,432.8 L748.8,427.7 L746.3,422.6 Z" fill="#fff" stroke="#000" stroke-width="1.6" stroke-linejoin="round"/><path d="M747.8,482.5 L748.6,488.1 L765.1,483.0 L764.3,477.3 Z" fill="#fff" stroke="#000" stroke-width="1.6" stroke-linejoin="round"/><path d="M734.7,438.0 L736.9,443.3 L753.4,438.2 L751.2,432.9 Z" fill="#fff" stroke="#000" stroke-width="1.6" stroke-linejoin="round"/><path d="M745.6,471.2 L746.8,476.8 L763.3,471.7 L762.1,466.0 Z" fill="#fff" stroke="#000" stroke-width="1.6" stroke-linejoin="round"/><path d="M739.0,448.8 L740.9,454.3 L757.4,449.2 L755.5,443.6 Z" fill="#fff" stroke="#000" stroke-width="1.6" stroke-linejoin="round"/><path d="M742.7,459.9 L744.2,465.5 L760.7,460.4 L759.1,454.7 Z" fill="#fff" stroke="#000" stroke-width="1.6" stroke-linejoin="round"/><path d="M719.9,559.6 L719.3,559.8 L719.7,566.1 L718.3,566.5 L715.1,561.1 L714.4,561.3 L713.7,561.4 L713.7,567.4 L712.2,567.6 L709.3,561.8 L708.6,561.8 L707.9,561.8 L707.4,567.5 L705.8,567.3 L703.3,561.3 L702.5,561.1 L701.8,561.0 L700.9,566.3 L699.2,565.8 L697.1,559.5 L696.3,559.3 L695.5,559.0 L694.2,563.8 L692.5,563.0 L690.7,556.6 L690.0,556.2 L689.2,555.8 L687.4,560.1 L685.8,559.0 L684.4,552.6 L683.6,552.1 L682.9,551.5 L680.7,555.3 L679.1,553.9 L678.2,547.5 L677.4,546.8 L676.7,546.2 L674.1,549.3 L672.5,547.7 L672.1,541.4 L671.3,540.6 L670.6,539.8 L667.8,542.3 L666.2,540.4 L666.2,534.4 L665.5,533.5 L664.9,532.6 L661.7,534.4 L660.2,532.3 L660.7,526.6 L660.1,525.6 L659.4,524.6 L656.0,525.6 L654.7,523.3 L655.6,518.0 L655.0,516.9 L654.4,515.8 L650.8,516.1 L649.5,513.7 L650.9,508.8 L650.4,507.7 L649.9,506.5 L646.1,506.1 L645.0,503.5 L646.8,499.1 L646.3,497.9 L645.9,496.8 L642.0,495.6 L641.0,492.9 L643.2,489.1 L642.8,487.9 L642.4,486.7 L638.5,484.8 L637.8,482.1 L640.3,478.9 L640.0,477.7 L639.7,476.4 L635.8,473.8 L635.2,471.1 L638.0,468.6 L637.8,467.4 L637.6,466.1 L633.7,462.9 L633.3,460.2 L636.5,458.4 L636.4,457.1 L636.2,455.9 L632.5,452.1 L632.3,449.4 L635.7,448.3 L635.6,447.1 L635.6,446.0 L632.0,441.5 L632.0,439.0 L635.6,438.6 L635.6,437.5 L635.7,436.4 L632.3,431.4 L632.5,429.0 L636.2,429.4 L636.4,428.3 L636.5,427.3 L633.4,421.9 L633.7,419.6 L637.6,420.8 L637.8,419.8 L638.1,418.8 L635.2,413.0 L635.8,410.9 L639.7,412.8 L640.0,411.9 L640.3,411.0 L637.8,405.0 L638.5,403.1 L642.5,405.7 L642.9,404.9 L643.2,404.1 L641.1,397.9 L642.0,396.3 L645.9,399.5 L646.3,398.8 L646.8,398.2 L645.0,391.8 L646.1,390.4 L649.9,394.3 L650.4,393.7 L650.9,393.2 L649.6,386.8 L650.8,385.7 L654.4,390.2 L655.0,389.7 L655.6,389.3 L654.7,383.0 L656.0,382.2 L659.5,387.1 L660.1,386.9 L660.7,386.6 L660.3,380.4 L661.7,379.9 L664.9,385.3 L665.6,385.2 L666.3,385.0 L666.3,379.0 L667.8,378.9 L670.7,384.6 L671.4,384.6 L672.1,384.7 L672.6,378.9 L674.2,379.1 L676.7,385.2 L677.5,385.3 L678.2,385.5 L679.1,380.2 L680.8,380.6 L682.9,386.9 L683.7,387.2 L684.5,387.5 L685.8,382.6 L687.5,383.4 L689.3,389.8 L690.0,390.2 L690.8,390.7 L692.6,386.3 L694.2,387.4 L695.6,393.8 L696.4,394.4 L697.1,394.9 L699.3,391.2 L700.9,392.5 L701.8,398.9 L702.6,399.6 L703.3,400.3 L705.9,397.1 L707.5,398.8 L707.9,405.0 L708.7,405.8 L709.4,406.6 L712.2,404.1 L713.8,406.0 L713.8,412.0 L714.5,412.9 L715.1,413.9 L718.3,412.1 L719.8,414.2 L719.3,419.9 L719.9,420.9 L720.6,421.9 L724.0,420.8 L725.3,423.1 L724.4,428.5 L725.0,429.5 L725.6,430.6 L729.2,430.3 L730.5,432.8 L729.1,437.6 L729.6,438.8 L730.1,439.9 L733.9,440.3 L735.0,442.9 L733.2,447.3 L733.7,448.5 L734.1,449.7 L738.0,450.8 L739.0,453.5 L736.8,457.3 L737.2,458.5 L737.6,459.7 L741.5,461.6 L742.2,464.4 L739.7,467.5 L740.0,468.8 L740.3,470.0 L744.2,472.6 L744.8,475.3 L742.0,477.8 L742.2,479.1 L742.4,480.3 L746.3,483.6 L746.7,486.3 L743.5,488.1 L743.6,489.3 L743.8,490.5 L747.5,494.4 L747.7,497.0 L744.3,498.1 L744.4,499.3 L744.4,500.5 L748.0,504.9 L748.0,507.5 L744.4,507.8 L744.4,509.0 L744.3,510.1 L747.7,515.0 L747.5,517.5 L743.8,517.0 L743.6,518.1 L743.5,519.2 L746.6,524.6 L746.3,526.8 L742.4,525.7 L742.2,526.7 L741.9,527.7 L744.8,533.4 L744.2,535.5 L740.3,533.6 L740.0,534.5 L739.7,535.4 L742.2,541.4 L741.5,543.3 L737.5,540.7 L737.1,541.5 L736.8,542.3 L738.9,548.6 L738.0,550.2 L734.1,546.9 L733.7,547.6 L733.2,548.3 L735.0,554.7 L733.9,556.0 L730.1,552.1 L729.6,552.7 L729.1,553.2 L730.4,559.6 L729.2,560.7 L725.6,556.3 L725.0,556.7 L724.4,557.1 L725.3,563.5 L724.0,564.2 L720.5,559.3 Z" fill="#fff" stroke="#000" stroke-width="1.6" stroke-linejoin="round"/><ellipse cx="690.0" cy="473.2" rx="91.5" ry="49.4" transform="rotate(72.70 690.0 473.2)" fill="none" stroke="#000" stroke-width="1.2" /><ellipse cx="690.0" cy="473.2" rx="83.5" ry="45.1" transform="rotate(72.70 690.0 473.2)" fill="none" stroke="#000" stroke-width="1.4" /><ellipse cx="690.0" cy="473.2" rx="69.0" ry="37.3" transform="rotate(72.70 690.0 473.2)" fill="none" stroke="#000" stroke-width="2.4" /><ellipse cx="690.0" cy="473.2" rx="64.0" ry="34.6" transform="rotate(72.70 690.0 473.2)" fill="none" stroke="#000" stroke-width="1.2" /><ellipse cx="690.0" cy="473.2" rx="58.0" ry="31.3" transform="rotate(72.70 690.0 473.2)" fill="none" stroke="#000" stroke-width="1.1" /><ellipse cx="690.0" cy="473.2" rx="42.8" ry="23.1" transform="rotate(72.70 690.0 473.2)" fill="none" stroke="#000" stroke-width="2.1" /><ellipse cx="690.0" cy="473.2" rx="35.2" ry="19.0" transform="rotate(72.70 690.0 473.2)" fill="none" stroke="#000" stroke-width="2.3" /><ellipse cx="690.0" cy="473.2" rx="29.5" ry="15.9" transform="rotate(72.70 690.0 473.2)" fill="none" stroke="#000" stroke-width="1.2" /><ellipse cx="669.2" cy="419.9" rx="3.0" ry="4.8" transform="rotate(-18 669.2 419.9)" fill="#fff" stroke="#000" stroke-width="1.1"/><ellipse cx="661.2" cy="430.5" rx="3.0" ry="4.8" transform="rotate(-18 661.2 430.5)" fill="#fff" stroke="#000" stroke-width="1.1"/><ellipse cx="658.6" cy="466.4" rx="3.0" ry="4.8" transform="rotate(-18 658.6 466.4)" fill="#fff" stroke="#000" stroke-width="1.1"/><ellipse cx="665.2" cy="490.4" rx="3.0" ry="4.8" transform="rotate(-18 665.2 490.4)" fill="#fff" stroke="#000" stroke-width="1.1"/><ellipse cx="714.4" cy="525.0" rx="3.0" ry="4.8" transform="rotate(-18 714.4 525.0)" fill="#fff" stroke="#000" stroke-width="1.1"/><ellipse cx="723.8" cy="511.6" rx="3.0" ry="4.8" transform="rotate(-18 723.8 511.6)" fill="#fff" stroke="#000" stroke-width="1.1"/><ellipse cx="726.4" cy="477.0" rx="3.0" ry="4.8" transform="rotate(-18 726.4 477.0)" fill="#fff" stroke="#000" stroke-width="1.1"/><ellipse cx="719.8" cy="453.0" rx="3.0" ry="4.8" transform="rotate(-18 719.8 453.0)" fill="#fff" stroke="#000" stroke-width="1.1"/><ellipse cx="697.0" cy="471.0" rx="23.5" ry="12.7" transform="rotate(72.70 697.0 471.0)" fill="#fff" stroke="#000" stroke-width="3.0" /><ellipse cx="700.3" cy="470.0" rx="20.0" ry="10.8" transform="rotate(72.70 700.3 470.0)" fill="#fff" stroke="#000" stroke-width="1.8" /><line x1="703.5" y1="452.5" x2="708.0" y2="488.0" stroke="#000" stroke-width="1.6"/><path d="M783.3,379.5 L856.4,356.3 L860.3,366.1 L785.7,388.9 Z" fill="#fff" stroke="#000" stroke-width="1.9"/><ellipse cx="783.6" cy="384.2" rx="3.0" ry="5.0" transform="rotate(-18 783.6 384.2)" fill="#fff" stroke="#000" stroke-width="1.5"/><path d="M856.4,353.5 L857.5,351.4 L861.3,350.1 L865.5,351.2 L868.3,355.5 L869.5,361.7 L868.3,366.8 L864.5,370 L861.3,370.5 L859.3,368.5 L857.6,362 Z" fill="#fff" stroke="#000" stroke-width="2.0" stroke-linejoin="round"/><line x1="858.4" y1="355.6" x2="866.1" y2="355.0" stroke="#000" stroke-width="1.6"/><line x1="860.3" y1="356.0" x2="861.3" y2="369.5" stroke="#000" stroke-width="1.9"/><line x1="863.7" y1="357.0" x2="865.1" y2="366.0" stroke="#000" stroke-width="1.5"/><path d="M67.5,600.2 L72.5,599.3 L76.5,601.5 L78.2,606 L78,612 L75.5,616 L71,617.2 L66.5,615 L64.3,610 L64.2,604.5 Z" fill="#fff" stroke="#000" stroke-width="2.3" stroke-linejoin="round"/><line x1="70.6" y1="599.8" x2="71.8" y2="616.8" stroke="#000" stroke-width="2.0"/><line x1="67.2" y1="601.0" x2="65.5" y2="604.5" stroke="#000" stroke-width="2.2"/><line x1="71.5" y1="600.5" x2="74.5" y2="603.5" stroke="#000" stroke-width="1.4"/><line x1="71.5" y1="614.5" x2="74.5" y2="612.5" stroke="#000" stroke-width="1.2"/><ellipse cx="68.0" cy="141.1" rx="20.7" ry="14.2" transform="rotate(125.30 68.0 141.1)" fill="#fff" stroke="#000" stroke-width="1.7" /><ellipse cx="68.0" cy="141.1" rx="11.3" ry="7.8" transform="rotate(125.30 68.0 141.1)" fill="#fff" stroke="#000" stroke-width="2.3" /><ellipse cx="418.0" cy="388.9" rx="20.5" ry="14.1" transform="rotate(125.30 418.0 388.9)" fill="#fff" stroke="#000" stroke-width="1.7" /><ellipse cx="418.0" cy="388.9" rx="11.0" ry="7.6" transform="rotate(125.30 418.0 388.9)" fill="#fff" stroke="#000" stroke-width="2.3" /><path d="M100.0,195.6 L100.8,196.1 L118.7,187.8 L118.4,187.6 Z" fill="#000" stroke="#000" stroke-width="0.8"/><path d="M100.8,196.1 L101.6,196.6 L118.9,187.9 L118.7,187.8 Z" fill="#000" stroke="#000" stroke-width="0.8"/><path d="M101.6,196.6 L102.4,196.9 L119.2,188.1 L118.9,187.9 Z" fill="#000" stroke="#000" stroke-width="0.8"/><path d="M102.4,196.9 L103.3,197.3 L119.5,188.2 L119.2,188.1 Z" fill="#000" stroke="#000" stroke-width="0.8"/><path d="M103.3,197.3 L104.3,197.5 L119.8,188.3 L119.5,188.2 Z" fill="#000" stroke="#000" stroke-width="0.8"/><path d="M104.3,197.5 L105.2,197.7 L120.2,188.3 L119.8,188.3 Z" fill="#000" stroke="#000" stroke-width="0.8"/><path d="M105.2,197.7 L106.2,197.9 L120.5,188.4 L120.2,188.3 Z" fill="#000" stroke="#000" stroke-width="0.8"/><path d="M106.2,197.9 L107.2,198.0 L120.8,188.4 L120.5,188.4 Z" fill="#000" stroke="#000" stroke-width="0.8"/><path d="M107.2,198.0 L108.2,198.0 L121.2,188.4 L120.8,188.4 Z" fill="#000" stroke="#000" stroke-width="0.8"/><path d="M108.2,198.0 L109.3,197.9 L121.5,188.4 L121.2,188.4 Z" fill="#000" stroke="#000" stroke-width="0.8"/><path d="M109.3,197.9 L110.3,197.8 L121.9,188.3 L121.5,188.4 Z" fill="#000" stroke="#000" stroke-width="0.8"/><path d="M110.3,197.8 L111.4,197.6 L122.3,188.3 L121.9,188.3 Z" fill="#000" stroke="#000" stroke-width="0.8"/><path d="M111.4,197.6 L112.5,197.4 L122.6,188.2 L122.3,188.3 Z" fill="#000" stroke="#000" stroke-width="0.8"/><path d="M112.5,197.4 L113.6,197.0 L123.0,188.1 L122.6,188.2 Z" fill="#000" stroke="#000" stroke-width="0.8"/><path d="M113.6,197.0 L114.7,196.7 L123.4,188.0 L123.0,188.1 Z" fill="#000" stroke="#000" stroke-width="0.8"/><path d="M114.7,196.7 L115.8,196.2 L123.8,187.8 L123.4,188.0 Z" fill="#000" stroke="#000" stroke-width="0.8"/><path d="M115.8,196.2 L116.9,195.7 L124.1,187.7 L123.8,187.8 Z" fill="#000" stroke="#000" stroke-width="0.8"/><path d="M116.9,195.7 L118.0,195.2 L124.5,187.5 L124.1,187.7 Z" fill="#000" stroke="#000" stroke-width="0.8"/><path d="M118.0,195.2 L119.0,194.6 L124.9,187.3 L124.5,187.5 Z" fill="#000" stroke="#000" stroke-width="0.8"/><path d="M119.0,194.6 L120.1,193.9 L125.2,187.0 L124.9,187.3 Z" fill="#000" stroke="#000" stroke-width="0.8"/><path d="M120.1,193.9 L121.2,193.2 L125.6,186.8 L125.2,187.0 Z" fill="#000" stroke="#000" stroke-width="0.8"/><path d="M121.2,193.2 L122.2,192.4 L125.9,186.5 L125.6,186.8 Z" fill="#000" stroke="#000" stroke-width="0.8"/><path d="M122.2,192.4 L123.2,191.6 L126.3,186.2 L125.9,186.5 Z" fill="#000" stroke="#000" stroke-width="0.8"/><path d="M123.2,191.6 L124.2,190.7 L126.6,186.0 L126.3,186.2 Z" fill="#000" stroke="#000" stroke-width="0.8"/><path d="M124.2,190.7 L125.2,189.8 L127.0,185.6 L126.6,186.0 Z" fill="#000" stroke="#000" stroke-width="0.8"/><path d="M125.2,189.8 L126.1,188.9 L127.3,185.3 L127.0,185.6 Z" fill="#000" stroke="#000" stroke-width="0.8"/><path d="M126.1,188.9 L127.0,187.9 L127.6,185.0 L127.3,185.3 Z" fill="#000" stroke="#000" stroke-width="0.8"/><path d="M127.0,187.9 L127.9,186.9 L127.9,184.6 L127.6,185.0 Z" fill="#000" stroke="#000" stroke-width="0.8"/><path d="M127.9,186.9 L128.8,185.8 L128.2,184.3 L127.9,184.6 Z" fill="#000" stroke="#000" stroke-width="0.8"/><path d="M128.8,185.8 L129.6,184.7 L128.5,183.9 L128.2,184.3 Z" fill="#000" stroke="#000" stroke-width="0.8"/><path d="M129.6,184.7 L130.3,183.6 L128.7,183.5 L128.5,183.9 Z" fill="#000" stroke="#000" stroke-width="0.8"/><path d="M130.3,183.6 L131.1,182.4 L129.0,183.1 L128.7,183.5 Z" fill="#000" stroke="#000" stroke-width="0.8"/><path d="M131.1,182.4 L131.7,181.2 L129.2,182.7 L129.0,183.1 Z" fill="#000" stroke="#000" stroke-width="0.8"/><path d="M131.7,181.2 L132.4,180.1 L129.4,182.3 L129.2,182.7 Z" fill="#000" stroke="#000" stroke-width="0.8"/><path d="M132.4,180.1 L133.0,178.9 L129.6,181.9 L129.4,182.3 Z" fill="#000" stroke="#000" stroke-width="0.8"/><path d="M133.0,178.9 L133.5,177.6 L129.8,181.5 L129.6,181.9 Z" fill="#000" stroke="#000" stroke-width="0.8"/><path d="M133.5,177.6 L134.0,176.4 L130.0,181.1 L129.8,181.5 Z" fill="#000" stroke="#000" stroke-width="0.8"/><path d="M134.0,176.4 L134.4,175.2 L130.1,180.7 L130.0,181.1 Z" fill="#000" stroke="#000" stroke-width="0.8"/><path d="M134.4,175.2 L134.8,173.9 L130.2,180.2 L130.1,180.7 Z" fill="#000" stroke="#000" stroke-width="0.8"/><path d="M134.8,173.9 L135.1,172.7 L130.3,179.8 L130.2,180.2 Z" fill="#000" stroke="#000" stroke-width="0.8"/><path d="M135.1,172.7 L135.4,171.5 L130.4,179.4 L130.3,179.8 Z" fill="#000" stroke="#000" stroke-width="0.8"/><path d="M135.4,171.5 L135.6,170.3 L130.5,179.0 L130.4,179.4 Z" fill="#000" stroke="#000" stroke-width="0.8"/><path d="M135.6,170.3 L135.8,169.0 L130.6,178.6 L130.5,179.0 Z" fill="#000" stroke="#000" stroke-width="0.8"/><path d="M135.8,169.0 L135.9,167.8 L130.6,178.2 L130.6,178.6 Z" fill="#000" stroke="#000" stroke-width="0.8"/><path d="M135.9,167.8 L135.9,166.7 L130.6,177.8 L130.6,178.2 Z" fill="#000" stroke="#000" stroke-width="0.8"/><path d="M135.9,166.7 L135.9,165.5 L130.6,177.4 L130.6,177.8 Z" fill="#000" stroke="#000" stroke-width="0.8"/><path d="M135.9,165.5 L135.9,164.4 L130.6,177.0 L130.6,177.4 Z" fill="#000" stroke="#000" stroke-width="0.8"/><path d="M135.9,164.4 L135.7,163.3 L130.5,176.6 L130.6,177.0 Z" fill="#000" stroke="#000" stroke-width="0.8"/><path d="M135.7,163.3 L135.5,162.2 L130.5,176.2 L130.5,176.6 Z" fill="#000" stroke="#000" stroke-width="0.8"/><path d="M135.5,162.2 L135.3,161.2 L130.4,175.9 L130.5,176.2 Z" fill="#000" stroke="#000" stroke-width="0.8"/><path d="M135.3,161.2 L135.0,160.2 L130.3,175.6 L130.4,175.9 Z" fill="#000" stroke="#000" stroke-width="0.8"/><path d="M135.0,160.2 L134.7,159.2 L130.2,175.2 L130.3,175.6 Z" fill="#000" stroke="#000" stroke-width="0.8"/><path d="M134.7,159.2 L134.3,158.3 L130.0,174.9 L130.2,175.2 Z" fill="#000" stroke="#000" stroke-width="0.8"/><path d="M134.3,158.3 L133.8,157.4 L129.9,174.6 L130.0,174.9 Z" fill="#000" stroke="#000" stroke-width="0.8"/><path d="M133.8,157.4 L133.3,156.5 L129.7,174.3 L129.9,174.6 Z" fill="#000" stroke="#000" stroke-width="0.8"/><path d="M133.3,156.5 L132.7,155.8 L129.5,174.1 L129.7,174.3 Z" fill="#000" stroke="#000" stroke-width="0.8"/><path d="M132.7,155.8 L132.1,155.0 L129.3,173.8 L129.5,174.1 Z" fill="#000" stroke="#000" stroke-width="0.8"/><path d="M132.1,155.0 L131.5,154.3 L129.1,173.6 L129.3,173.8 Z" fill="#000" stroke="#000" stroke-width="0.8"/><path d="M131.5,154.3 L130.8,153.7 L128.9,173.4 L129.1,173.6 Z" fill="#000" stroke="#000" stroke-width="0.8"/><path d="M130.8,153.7 L130.0,153.2 L128.6,173.2 L128.9,173.4 Z" fill="#000" stroke="#000" stroke-width="0.8"/><path d="M130.0,153.2 L129.2,152.6 L128.3,173.0 L128.6,173.2 Z" fill="#000" stroke="#000" stroke-width="0.8"/><path d="M129.2,152.6 L128.4,152.2 L128.1,172.8 L128.3,173.0 Z" fill="#000" stroke="#000" stroke-width="0.8"/><path d="M128.4,152.2 L127.6,151.8 L127.8,172.7 L128.1,172.8 Z" fill="#000" stroke="#000" stroke-width="0.8"/><path d="M127.6,151.8 L126.7,151.5 L127.5,172.6 L127.8,172.7 Z" fill="#000" stroke="#000" stroke-width="0.8"/><path d="M126.7,151.5 L125.7,151.2 L127.1,172.5 L127.5,172.6 Z" fill="#000" stroke="#000" stroke-width="0.8"/><path d="M125.7,151.2 L124.8,151.0 L126.8,172.4 L127.1,172.5 Z" fill="#000" stroke="#000" stroke-width="0.8"/><path d="M124.8,151.0 L123.8,150.9 L126.5,172.4 L126.8,172.4 Z" fill="#000" stroke="#000" stroke-width="0.8"/><path d="M123.8,150.9 L122.8,150.8 L126.1,172.4 L126.5,172.4 Z" fill="#000" stroke="#000" stroke-width="0.8"/><path d="M122.8,150.8 L121.8,150.8 L125.8,172.4 L126.1,172.4 Z" fill="#000" stroke="#000" stroke-width="0.8"/><path d="M121.8,150.8 L120.7,150.8 L125.4,172.4 L125.8,172.4 Z" fill="#000" stroke="#000" stroke-width="0.8"/><path d="M120.7,150.8 L119.7,151.0 L125.1,172.4 L125.4,172.4 Z" fill="#000" stroke="#000" stroke-width="0.8"/><path d="M119.7,151.0 L118.6,151.1 L124.7,172.5 L125.1,172.4 Z" fill="#000" stroke="#000" stroke-width="0.8"/><path d="M118.6,151.1 L117.5,151.4 L124.3,172.6 L124.7,172.5 Z" fill="#000" stroke="#000" stroke-width="0.8"/><path d="M117.5,151.4 L116.4,151.7 L124.0,172.7 L124.3,172.6 Z" fill="#000" stroke="#000" stroke-width="0.8"/><path d="M116.4,151.7 L115.3,152.1 L123.6,172.8 L124.0,172.7 Z" fill="#000" stroke="#000" stroke-width="0.8"/><path d="M115.3,152.1 L114.2,152.5 L123.2,173.0 L123.6,172.8 Z" fill="#000" stroke="#000" stroke-width="0.8"/><path d="M114.2,152.5 L113.1,153.0 L122.9,173.1 L123.2,173.0 Z" fill="#000" stroke="#000" stroke-width="0.8"/><path d="M113.1,153.0 L112.0,153.6 L122.5,173.3 L122.9,173.1 Z" fill="#000" stroke="#000" stroke-width="0.8"/><path d="M112.0,153.6 L111.0,154.2 L122.1,173.5 L122.5,173.3 Z" fill="#000" stroke="#000" stroke-width="0.8"/><path d="M111.0,154.2 L109.9,154.8 L121.8,173.7 L122.1,173.5 Z" fill="#000" stroke="#000" stroke-width="0.8"/><path d="M109.9,154.8 L108.8,155.5 L121.4,174.0 L121.8,173.7 Z" fill="#000" stroke="#000" stroke-width="0.8"/><path d="M108.8,155.5 L107.8,156.3 L121.0,174.2 L121.4,174.0 Z" fill="#000" stroke="#000" stroke-width="0.8"/><path d="M107.8,156.3 L106.8,157.1 L120.7,174.5 L121.0,174.2 Z" fill="#000" stroke="#000" stroke-width="0.8"/><path d="M106.8,157.1 L105.8,158.0 L120.4,174.8 L120.7,174.5 Z" fill="#000" stroke="#000" stroke-width="0.8"/><path d="M105.8,158.0 L104.8,158.9 L120.0,175.1 L120.4,174.8 Z" fill="#000" stroke="#000" stroke-width="0.8"/><path d="M104.8,158.9 L103.9,159.9 L119.7,175.5 L120.0,175.1 Z" fill="#000" stroke="#000" stroke-width="0.8"/><path d="M103.9,159.9 L103.0,160.9 L119.4,175.8 L119.7,175.5 Z" fill="#000" stroke="#000" stroke-width="0.8"/><path d="M103.0,160.9 L102.1,161.9 L119.1,176.1 L119.4,175.8 Z" fill="#000" stroke="#000" stroke-width="0.8"/><path d="M102.1,161.9 L101.2,163.0 L118.8,176.5 L119.1,176.1 Z" fill="#000" stroke="#000" stroke-width="0.8"/><path d="M101.2,163.0 L100.4,164.1 L118.5,176.9 L118.8,176.5 Z" fill="#000" stroke="#000" stroke-width="0.8"/><path d="M100.4,164.1 L99.7,165.2 L118.3,177.3 L118.5,176.9 Z" fill="#000" stroke="#000" stroke-width="0.8"/><path d="M99.7,165.2 L98.9,166.3 L118.0,177.7 L118.3,177.3 Z" fill="#000" stroke="#000" stroke-width="0.8"/><path d="M98.9,166.3 L98.3,167.5 L117.8,178.0 L118.0,177.7 Z" fill="#000" stroke="#000" stroke-width="0.8"/><path d="M98.3,167.5 L97.6,168.7 L117.6,178.5 L117.8,178.0 Z" fill="#000" stroke="#000" stroke-width="0.8"/><path d="M97.6,168.7 L97.0,169.9 L117.4,178.9 L117.6,178.5 Z" fill="#000" stroke="#000" stroke-width="0.8"/><path d="M97.0,169.9 L96.5,171.1 L117.2,179.3 L117.4,178.9 Z" fill="#000" stroke="#000" stroke-width="0.8"/><path d="M96.5,171.1 L96.0,172.3 L117.0,179.7 L117.2,179.3 Z" fill="#000" stroke="#000" stroke-width="0.8"/><path d="M96.0,172.3 L95.6,173.6 L116.9,180.1 L117.0,179.7 Z" fill="#000" stroke="#000" stroke-width="0.8"/><path d="M95.6,173.6 L95.2,174.8 L116.8,180.5 L116.9,180.1 Z" fill="#000" stroke="#000" stroke-width="0.8"/><path d="M95.2,174.8 L94.9,176.0 L116.6,181.0 L116.8,180.5 Z" fill="#000" stroke="#000" stroke-width="0.8"/><path d="M94.9,176.0 L94.6,177.3 L116.6,181.4 L116.6,181.0 Z" fill="#000" stroke="#000" stroke-width="0.8"/><path d="M94.6,177.3 L94.4,178.5 L116.5,181.8 L116.6,181.4 Z" fill="#000" stroke="#000" stroke-width="0.8"/><path d="M94.4,178.5 L94.2,179.7 L116.4,182.2 L116.5,181.8 Z" fill="#000" stroke="#000" stroke-width="0.8"/><path d="M94.2,179.7 L94.1,180.9 L116.4,182.6 L116.4,182.2 Z" fill="#000" stroke="#000" stroke-width="0.8"/><path d="M94.1,180.9 L94.1,182.1 L116.4,183.0 L116.4,182.6 Z" fill="#000" stroke="#000" stroke-width="0.8"/><path d="M94.1,182.1 L94.1,183.2 L116.4,183.4 L116.4,183.0 Z" fill="#000" stroke="#000" stroke-width="0.8"/><path d="M94.1,183.2 L94.1,184.4 L116.4,183.8 L116.4,183.4 Z" fill="#000" stroke="#000" stroke-width="0.8"/><path d="M94.1,184.4 L94.3,185.5 L116.4,184.2 L116.4,183.8 Z" fill="#000" stroke="#000" stroke-width="0.8"/><path d="M94.3,185.5 L94.5,186.5 L116.5,184.5 L116.4,184.2 Z" fill="#000" stroke="#000" stroke-width="0.8"/><path d="M94.5,186.5 L94.7,187.6 L116.6,184.9 L116.5,184.5 Z" fill="#000" stroke="#000" stroke-width="0.8"/><path d="M94.7,187.6 L95.0,188.6 L116.7,185.2 L116.6,184.9 Z" fill="#000" stroke="#000" stroke-width="0.8"/><path d="M95.0,188.6 L95.3,189.6 L116.8,185.6 L116.7,185.2 Z" fill="#000" stroke="#000" stroke-width="0.8"/><path d="M95.3,189.6 L95.7,190.5 L116.9,185.9 L116.8,185.6 Z" fill="#000" stroke="#000" stroke-width="0.8"/><path d="M95.7,190.5 L96.2,191.4 L117.1,186.2 L116.9,185.9 Z" fill="#000" stroke="#000" stroke-width="0.8"/><path d="M96.2,191.4 L96.7,192.2 L117.3,186.4 L117.1,186.2 Z" fill="#000" stroke="#000" stroke-width="0.8"/><path d="M96.7,192.2 L97.3,193.0 L117.5,186.7 L117.3,186.4 Z" fill="#000" stroke="#000" stroke-width="0.8"/><path d="M97.3,193.0 L97.9,193.7 L117.7,187.0 L117.5,186.7 Z" fill="#000" stroke="#000" stroke-width="0.8"/><path d="M97.9,193.7 L98.5,194.4 L117.9,187.2 L117.7,187.0 Z" fill="#000" stroke="#000" stroke-width="0.8"/><path d="M98.5,194.4 L99.2,195.0 L118.1,187.4 L117.9,187.2 Z" fill="#000" stroke="#000" stroke-width="0.8"/><path d="M99.2,195.0 L100.0,195.6 L118.4,187.6 L118.1,187.4 Z" fill="#000" stroke="#000" stroke-width="0.8"/><path d="M126.9,186.5 L124.9,192.5 L126.0,192.5 L127.0,192.3 L127.9,191.9 L128.7,191.3 L129.2,190.5 L129.6,189.5 L129.8,188.3 L129.9,187.1 L128.6,184.7 Z" fill="#fff" stroke="#000" stroke-width="1.5" stroke-linejoin="round"/><path d="M129.3,183.7 L132.1,184.0 L133.2,183.5 L134.2,183.0 L135.0,182.3 L135.6,181.4 L136.0,180.5 L136.0,179.5 L135.8,178.5 L135.4,177.5 L130.4,181.5 Z" fill="#fff" stroke="#000" stroke-width="1.5" stroke-linejoin="round"/><path d="M123.9,188.5 L116.3,198.2 L117.1,198.6 L117.9,198.9 L118.8,199.0 L119.6,198.7 L120.4,198.0 L121.0,197.1 L121.6,196.0 L122.1,194.8 L125.9,187.3 Z" fill="#fff" stroke="#000" stroke-width="1.5" stroke-linejoin="round"/><path d="M130.9,180.3 L136.7,174.1 L137.6,173.2 L138.5,172.3 L139.1,171.4 L139.5,170.4 L139.5,169.6 L139.2,168.8 L138.6,168.1 L137.9,167.5 L131.3,178.0 Z" fill="#fff" stroke="#000" stroke-width="1.5" stroke-linejoin="round"/><path d="M120.9,189.2 L107.4,200.2 L107.9,201.1 L108.4,201.8 L109.1,202.2 L109.8,202.3 L110.7,202.0 L111.5,201.3 L112.4,200.4 L113.2,199.3 L122.9,188.9 Z" fill="#fff" stroke="#000" stroke-width="1.5" stroke-linejoin="round"/><path d="M131.3,176.9 L137.9,164.2 L138.6,163.1 L139.2,162.0 L139.6,160.9 L139.6,160.1 L139.3,159.4 L138.7,158.9 L137.8,158.6 L136.8,158.5 L130.9,175.0 Z" fill="#fff" stroke="#000" stroke-width="1.5" stroke-linejoin="round"/><path d="M118.3,188.5 L99.7,198.4 L99.8,199.5 L99.9,200.5 L100.3,201.3 L100.9,201.7 L101.6,201.7 L102.5,201.4 L103.6,200.8 L104.6,200.0 L120.0,189.1 Z" fill="#fff" stroke="#000" stroke-width="1.5" stroke-linejoin="round"/><path d="M130.5,174.1 L135.7,155.9 L136.1,154.7 L136.3,153.5 L136.3,152.5 L136.0,151.9 L135.4,151.5 L134.5,151.4 L133.5,151.5 L132.4,151.9 L129.4,172.7 Z" fill="#fff" stroke="#000" stroke-width="1.5" stroke-linejoin="round"/><path d="M116.5,186.7 L94.3,192.9 L93.9,194.1 L93.7,195.2 L93.7,196.2 L94.0,196.9 L94.6,197.3 L95.5,197.4 L96.5,197.2 L97.6,196.9 L117.6,188.0 Z" fill="#fff" stroke="#000" stroke-width="1.5" stroke-linejoin="round"/><path d="M128.7,172.2 L130.3,150.4 L130.2,149.2 L130.1,148.2 L129.7,147.5 L129.1,147.1 L128.4,147.0 L127.5,147.3 L126.4,147.9 L125.4,148.7 L127.0,171.7 Z" fill="#fff" stroke="#000" stroke-width="1.5" stroke-linejoin="round"/><path d="M115.7,183.8 L92.1,184.5 L91.4,185.7 L90.8,186.8 L90.4,187.8 L90.4,188.7 L90.7,189.4 L91.3,189.8 L92.2,190.1 L93.2,190.3 L116.1,185.8 Z" fill="#fff" stroke="#000" stroke-width="1.5" stroke-linejoin="round"/><path d="M126.1,171.6 L122.6,148.5 L122.1,147.6 L121.6,146.9 L120.9,146.5 L120.2,146.5 L119.3,146.8 L118.5,147.4 L117.6,148.4 L116.8,149.4 L124.1,171.9 Z" fill="#fff" stroke="#000" stroke-width="1.5" stroke-linejoin="round"/><path d="M116.1,180.5 L93.3,174.6 L92.4,175.5 L91.5,176.4 L90.9,177.4 L90.5,178.3 L90.5,179.2 L90.8,180.0 L91.4,180.7 L92.1,181.3 L115.7,182.7 Z" fill="#fff" stroke="#000" stroke-width="1.5" stroke-linejoin="round"/><path d="M123.1,172.3 L113.7,150.6 L112.9,150.1 L112.1,149.8 L111.2,149.8 L110.4,150.1 L109.6,150.7 L109.0,151.6 L108.4,152.8 L107.9,154.0 L121.1,173.5 Z" fill="#fff" stroke="#000" stroke-width="1.5" stroke-linejoin="round"/><path d="M117.7,177.1 L97.9,164.7 L96.8,165.2 L95.8,165.8 L95.0,166.5 L94.4,167.3 L94.0,168.2 L94.0,169.2 L94.2,170.2 L94.6,171.2 L116.5,179.3 Z" fill="#fff" stroke="#000" stroke-width="1.5" stroke-linejoin="round"/><path d="M120.1,174.2 L105.1,156.3 L104.0,156.3 L103.0,156.4 L102.1,156.8 L101.3,157.4 L100.8,158.3 L100.4,159.3 L100.2,160.4 L100.1,161.6 L118.4,176.0 Z" fill="#fff" stroke="#000" stroke-width="1.5" stroke-linejoin="round"/><ellipse cx="123.5" cy="180.4" rx="9.5" ry="6.5" transform="rotate(125.30 123.5 180.4)" fill="#fff" stroke="#000" stroke-width="1.3" /><ellipse cx="170.2" cy="213.5" rx="12.0" ry="8.2" transform="rotate(125.30 170.2 213.5)" fill="#fff" stroke="#000" stroke-width="2.2" /><path d="M176.4,232.5 L163.3,223.3 L177.1,203.7 L190.2,212.9 Z" fill="#fff" stroke="none"/><line x1="176.4" y1="232.5" x2="163.3" y2="223.3" stroke="#000" stroke-width="2.2"/><line x1="177.1" y1="203.7" x2="190.2" y2="212.9" stroke="#000" stroke-width="2.2"/><ellipse cx="183.3" cy="222.7" rx="12.0" ry="8.2" transform="rotate(125.30 183.3 222.7)" fill="#fff" stroke="#000" stroke-width="2.2" /><ellipse cx="183.3" cy="222.7" rx="12.0" ry="8.2" transform="rotate(125.30 183.3 222.7)" fill="#fff" stroke="#000" stroke-width="2.6" /><ellipse cx="183.3" cy="222.7" rx="9.1" ry="6.3" transform="rotate(125.30 183.3 222.7)" fill="#fff" stroke="#000" stroke-width="1.5" /><ellipse cx="316.1" cy="316.8" rx="12.0" ry="8.2" transform="rotate(125.30 316.1 316.8)" fill="#fff" stroke="#000" stroke-width="2.2" /><path d="M322.3,335.8 L309.2,326.6 L323.0,307.0 L336.1,316.2 Z" fill="#fff" stroke="none"/><line x1="322.3" y1="335.8" x2="309.2" y2="326.6" stroke="#000" stroke-width="2.2"/><line x1="323.0" y1="307.0" x2="336.1" y2="316.2" stroke="#000" stroke-width="2.2"/><ellipse cx="329.2" cy="326.0" rx="12.0" ry="8.2" transform="rotate(125.30 329.2 326.0)" fill="#fff" stroke="#000" stroke-width="2.2" /><ellipse cx="329.2" cy="326.0" rx="12.0" ry="8.2" transform="rotate(125.30 329.2 326.0)" fill="#fff" stroke="#000" stroke-width="2.6" /><ellipse cx="329.2" cy="326.0" rx="9.1" ry="6.3" transform="rotate(125.30 329.2 326.0)" fill="#fff" stroke="#000" stroke-width="1.5" /><ellipse cx="210.4" cy="241.9" rx="10.0" ry="6.9" transform="rotate(125.30 210.4 241.9)" fill="#fff" stroke="#000" stroke-width="2.0" /><path d="M280.0,303.5 L204.6,250.1 L216.2,233.8 L291.6,287.1 Z" fill="#fff" stroke="none"/><line x1="280.0" y1="303.5" x2="204.6" y2="250.1" stroke="#000" stroke-width="2.0"/><line x1="216.2" y1="233.8" x2="291.6" y2="287.1" stroke="#000" stroke-width="2.0"/><ellipse cx="285.8" cy="295.3" rx="10.0" ry="6.9" transform="rotate(125.30 285.8 295.3)" fill="#fff" stroke="#000" stroke-width="2.0" /><path d="M208.3,246.0 L231.7,259.0 L231.7,268.3 L208.3,255.0 Z" fill="#fff" stroke="#000" stroke-width="1.7"/><path d="M249.2,273.0 L275.0,287.0 L275.0,298.3 L249.2,284.0 Z" fill="#fff" stroke="#000" stroke-width="1.7"/><line x1="209.5" y1="255.5" x2="231.0" y2="267.8" stroke="#000" stroke-width="2.6"/><line x1="250.5" y1="284.5" x2="274.5" y2="297.8" stroke="#000" stroke-width="2.6"/><path d="M339.8,269.5 L382.0,257.0 L382.0,264.3 L339.8,276.7 Z" fill="#fff" stroke="#000" stroke-width="1.7"/><ellipse cx="339.8" cy="273.1" rx="2.3" ry="3.8" transform="rotate(-16 339.8 273.1)" fill="#fff" stroke="#000" stroke-width="1.8"/><ellipse cx="382.0" cy="260.6" rx="2.3" ry="3.8" transform="rotate(-16 382.0 260.6)" fill="#fff" stroke="#000" stroke-width="1.7"/><path d="M356.4,375.9 L357.2,376.4 L355.7,361.6 L355.3,361.3 Z" fill="#fff" stroke="#fff" stroke-width="0.8"/><path d="M357.2,376.4 L357.9,376.9 L356.1,361.9 L355.7,361.6 Z" fill="#fff" stroke="#fff" stroke-width="0.8"/><path d="M357.9,376.9 L358.8,377.2 L356.6,362.1 L356.1,361.9 Z" fill="#fff" stroke="#fff" stroke-width="0.8"/><path d="M358.8,377.2 L359.6,377.5 L357.0,362.2 L356.6,362.1 Z" fill="#fff" stroke="#fff" stroke-width="0.8"/><path d="M359.6,377.5 L360.5,377.8 L357.5,362.4 L357.0,362.2 Z" fill="#fff" stroke="#fff" stroke-width="0.8"/><path d="M360.5,377.8 L361.4,378.0 L358.0,362.5 L357.5,362.4 Z" fill="#fff" stroke="#fff" stroke-width="0.8"/><path d="M361.4,378.0 L362.4,378.1 L358.6,362.6 L358.0,362.5 Z" fill="#fff" stroke="#fff" stroke-width="0.8"/><path d="M362.4,378.1 L363.4,378.2 L359.1,362.6 L358.6,362.6 Z" fill="#fff" stroke="#fff" stroke-width="0.8"/><path d="M363.4,378.2 L364.3,378.2 L359.6,362.6 L359.1,362.6 Z" fill="#fff" stroke="#fff" stroke-width="0.8"/><path d="M364.3,378.2 L365.3,378.2 L360.2,362.6 L359.6,362.6 Z" fill="#fff" stroke="#fff" stroke-width="0.8"/><path d="M365.3,378.2 L366.4,378.0 L360.8,362.5 L360.2,362.6 Z" fill="#fff" stroke="#fff" stroke-width="0.8"/><path d="M366.4,378.0 L367.4,377.9 L361.3,362.4 L360.8,362.5 Z" fill="#fff" stroke="#fff" stroke-width="0.8"/><path d="M367.4,377.9 L368.4,377.6 L361.9,362.3 L361.3,362.4 Z" fill="#fff" stroke="#fff" stroke-width="0.8"/><path d="M368.4,377.6 L369.5,377.3 L362.5,362.1 L361.9,362.3 Z" fill="#fff" stroke="#fff" stroke-width="0.8"/><path d="M369.5,377.3 L370.5,377.0 L363.0,361.9 L362.5,362.1 Z" fill="#fff" stroke="#fff" stroke-width="0.8"/><path d="M370.5,377.0 L371.6,376.6 L363.6,361.7 L363.0,361.9 Z" fill="#fff" stroke="#fff" stroke-width="0.8"/><path d="M371.6,376.6 L372.7,376.1 L364.2,361.4 L363.6,361.7 Z" fill="#fff" stroke="#fff" stroke-width="0.8"/><path d="M372.7,376.1 L373.7,375.5 L364.8,361.1 L364.2,361.4 Z" fill="#fff" stroke="#fff" stroke-width="0.8"/><path d="M373.7,375.5 L374.7,375.0 L365.4,360.8 L364.8,361.1 Z" fill="#fff" stroke="#fff" stroke-width="0.8"/><path d="M374.7,375.0 L375.8,374.3 L365.9,360.5 L365.4,360.8 Z" fill="#fff" stroke="#fff" stroke-width="0.8"/><path d="M375.8,374.3 L376.8,373.6 L366.5,360.1 L365.9,360.5 Z" fill="#fff" stroke="#fff" stroke-width="0.8"/><path d="M376.8,373.6 L377.8,372.9 L367.0,359.7 L366.5,360.1 Z" fill="#fff" stroke="#fff" stroke-width="0.8"/><path d="M377.8,372.9 L378.8,372.1 L367.6,359.2 L367.0,359.7 Z" fill="#fff" stroke="#fff" stroke-width="0.8"/><path d="M378.8,372.1 L379.7,371.3 L368.1,358.8 L367.6,359.2 Z" fill="#fff" stroke="#fff" stroke-width="0.8"/><path d="M379.7,371.3 L380.6,370.4 L368.6,358.3 L368.1,358.8 Z" fill="#fff" stroke="#fff" stroke-width="0.8"/><path d="M380.6,370.4 L381.6,369.5 L369.1,357.8 L368.6,358.3 Z" fill="#fff" stroke="#fff" stroke-width="0.8"/><path d="M381.6,369.5 L382.4,368.5 L369.6,357.3 L369.1,357.8 Z" fill="#fff" stroke="#fff" stroke-width="0.8"/><path d="M382.4,368.5 L383.3,367.5 L370.1,356.7 L369.6,357.3 Z" fill="#fff" stroke="#fff" stroke-width="0.8"/><path d="M383.3,367.5 L384.1,366.5 L370.5,356.2 L370.1,356.7 Z" fill="#fff" stroke="#fff" stroke-width="0.8"/><path d="M384.1,366.5 L384.9,365.4 L370.9,355.6 L370.5,356.2 Z" fill="#fff" stroke="#fff" stroke-width="0.8"/><path d="M384.9,365.4 L385.6,364.4 L371.3,355.0 L370.9,355.6 Z" fill="#fff" stroke="#fff" stroke-width="0.8"/><path d="M385.6,364.4 L386.3,363.3 L371.7,354.4 L371.3,355.0 Z" fill="#fff" stroke="#fff" stroke-width="0.8"/><path d="M386.3,363.3 L387.0,362.1 L372.1,353.8 L371.7,354.4 Z" fill="#fff" stroke="#fff" stroke-width="0.8"/><path d="M387.0,362.1 L387.6,361.0 L372.4,353.1 L372.1,353.8 Z" fill="#fff" stroke="#fff" stroke-width="0.8"/><path d="M387.6,361.0 L388.1,359.8 L372.7,352.5 L372.4,353.1 Z" fill="#fff" stroke="#fff" stroke-width="0.8"/><path d="M388.1,359.8 L388.6,358.7 L373.0,351.8 L372.7,352.5 Z" fill="#fff" stroke="#fff" stroke-width="0.8"/><path d="M388.6,358.7 L389.1,357.5 L373.3,351.2 L373.0,351.8 Z" fill="#fff" stroke="#fff" stroke-width="0.8"/><path d="M389.1,357.5 L389.5,356.3 L373.5,350.5 L373.3,351.2 Z" fill="#fff" stroke="#fff" stroke-width="0.8"/><path d="M389.5,356.3 L389.9,355.1 L373.7,349.9 L373.5,350.5 Z" fill="#fff" stroke="#fff" stroke-width="0.8"/><path d="M389.9,355.1 L390.2,353.9 L373.9,349.2 L373.7,349.9 Z" fill="#fff" stroke="#fff" stroke-width="0.8"/><path d="M390.2,353.9 L390.5,352.7 L374.0,348.6 L373.9,349.2 Z" fill="#fff" stroke="#fff" stroke-width="0.8"/><path d="M390.5,352.7 L390.7,351.6 L374.1,347.9 L374.0,348.6 Z" fill="#fff" stroke="#fff" stroke-width="0.8"/><path d="M390.7,351.6 L390.8,350.4 L374.2,347.3 L374.1,347.9 Z" fill="#fff" stroke="#fff" stroke-width="0.8"/><path d="M390.8,350.4 L390.9,349.2 L374.3,346.7 L374.2,347.3 Z" fill="#fff" stroke="#fff" stroke-width="0.8"/><path d="M390.9,349.2 L391.0,348.1 L374.3,346.0 L374.3,346.7 Z" fill="#fff" stroke="#fff" stroke-width="0.8"/><path d="M391.0,348.1 L391.0,347.0 L374.3,345.4 L374.3,346.0 Z" fill="#fff" stroke="#fff" stroke-width="0.8"/><path d="M391.0,347.0 L390.9,345.9 L374.2,344.8 L374.3,345.4 Z" fill="#fff" stroke="#fff" stroke-width="0.8"/><path d="M390.9,345.9 L390.8,344.9 L374.2,344.2 L374.2,344.8 Z" fill="#fff" stroke="#fff" stroke-width="0.8"/><path d="M390.8,344.9 L390.6,343.8 L374.1,343.7 L374.2,344.2 Z" fill="#fff" stroke="#fff" stroke-width="0.8"/><path d="M390.6,343.8 L390.4,342.8 L374.0,343.1 L374.1,343.7 Z" fill="#fff" stroke="#fff" stroke-width="0.8"/><path d="M390.4,342.8 L390.1,341.9 L373.8,342.6 L374.0,343.1 Z" fill="#fff" stroke="#fff" stroke-width="0.8"/><path d="M390.1,341.9 L389.7,340.9 L373.6,342.1 L373.8,342.6 Z" fill="#fff" stroke="#fff" stroke-width="0.8"/><path d="M389.7,340.9 L389.4,340.0 L373.4,341.6 L373.6,342.1 Z" fill="#fff" stroke="#fff" stroke-width="0.8"/><path d="M389.4,340.0 L388.9,339.2 L373.2,341.1 L373.4,341.6 Z" fill="#fff" stroke="#fff" stroke-width="0.8"/><path d="M388.9,339.2 L388.4,338.4 L372.9,340.7 L373.2,341.1 Z" fill="#fff" stroke="#fff" stroke-width="0.8"/><path d="M388.4,338.4 L387.9,337.6 L372.6,340.3 L372.9,340.7 Z" fill="#fff" stroke="#fff" stroke-width="0.8"/><path d="M387.9,337.6 L387.3,336.9 L372.3,339.9 L372.6,340.3 Z" fill="#fff" stroke="#fff" stroke-width="0.8"/><path d="M387.3,336.9 L386.7,336.3 L371.9,339.5 L372.3,339.9 Z" fill="#fff" stroke="#fff" stroke-width="0.8"/><path d="M386.7,336.3 L386.0,335.7 L371.6,339.2 L371.9,339.5 Z" fill="#fff" stroke="#fff" stroke-width="0.8"/><path d="M386.0,335.7 L385.3,335.1 L371.2,338.9 L371.6,339.2 Z" fill="#fff" stroke="#fff" stroke-width="0.8"/><path d="M385.3,335.1 L384.5,334.6 L370.7,338.6 L371.2,338.9 Z" fill="#fff" stroke="#fff" stroke-width="0.8"/><path d="M384.5,334.6 L383.8,334.2 L370.3,338.4 L370.7,338.6 Z" fill="#fff" stroke="#fff" stroke-width="0.8"/><path d="M383.8,334.2 L382.9,333.8 L369.9,338.2 L370.3,338.4 Z" fill="#fff" stroke="#fff" stroke-width="0.8"/><path d="M382.9,333.8 L382.1,333.5 L369.4,338.0 L369.9,338.2 Z" fill="#fff" stroke="#fff" stroke-width="0.8"/><path d="M382.1,333.5 L381.2,333.2 L368.9,337.9 L369.4,338.0 Z" fill="#fff" stroke="#fff" stroke-width="0.8"/><path d="M381.2,333.2 L380.3,333.1 L368.4,337.8 L368.9,337.9 Z" fill="#fff" stroke="#fff" stroke-width="0.8"/><path d="M380.3,333.1 L379.3,332.9 L367.9,337.7 L368.4,337.8 Z" fill="#fff" stroke="#fff" stroke-width="0.8"/><path d="M379.3,332.9 L378.3,332.8 L367.3,337.6 L367.9,337.7 Z" fill="#fff" stroke="#fff" stroke-width="0.8"/><path d="M378.3,332.8 L377.4,332.8 L366.8,337.6 L367.3,337.6 Z" fill="#fff" stroke="#fff" stroke-width="0.8"/><path d="M377.4,332.8 L376.4,332.9 L366.2,337.7 L366.8,337.6 Z" fill="#fff" stroke="#fff" stroke-width="0.8"/><path d="M376.4,332.9 L375.3,333.0 L365.7,337.7 L366.2,337.7 Z" fill="#fff" stroke="#fff" stroke-width="0.8"/><path d="M375.3,333.0 L374.3,333.2 L365.1,337.8 L365.7,337.7 Z" fill="#fff" stroke="#fff" stroke-width="0.8"/><path d="M374.3,333.2 L373.3,333.4 L364.5,338.0 L365.1,337.8 Z" fill="#fff" stroke="#fff" stroke-width="0.8"/><path d="M373.3,333.4 L372.2,333.7 L364.0,338.1 L364.5,338.0 Z" fill="#fff" stroke="#fff" stroke-width="0.8"/><path d="M372.2,333.7 L371.2,334.1 L363.4,338.3 L364.0,338.1 Z" fill="#fff" stroke="#fff" stroke-width="0.8"/><path d="M371.2,334.1 L370.1,334.5 L362.8,338.6 L363.4,338.3 Z" fill="#fff" stroke="#fff" stroke-width="0.8"/><path d="M370.1,334.5 L369.0,335.0 L362.2,338.8 L362.8,338.6 Z" fill="#fff" stroke="#fff" stroke-width="0.8"/><path d="M369.0,335.0 L368.0,335.5 L361.6,339.1 L362.2,338.8 Z" fill="#fff" stroke="#fff" stroke-width="0.8"/><path d="M368.0,335.5 L367.0,336.1 L361.1,339.4 L361.6,339.1 Z" fill="#fff" stroke="#fff" stroke-width="0.8"/><path d="M367.0,336.1 L365.9,336.7 L360.5,339.8 L361.1,339.4 Z" fill="#fff" stroke="#fff" stroke-width="0.8"/><path d="M365.9,336.7 L364.9,337.4 L360.0,340.2 L360.5,339.8 Z" fill="#fff" stroke="#fff" stroke-width="0.8"/><path d="M364.9,337.4 L363.9,338.2 L359.4,340.6 L360.0,340.2 Z" fill="#fff" stroke="#fff" stroke-width="0.8"/><path d="M363.9,338.2 L362.9,338.9 L358.9,341.0 L359.4,340.6 Z" fill="#fff" stroke="#fff" stroke-width="0.8"/><path d="M362.9,338.9 L362.0,339.8 L358.3,341.5 L358.9,341.0 Z" fill="#fff" stroke="#fff" stroke-width="0.8"/><path d="M362.0,339.8 L361.0,340.7 L357.8,341.9 L358.3,341.5 Z" fill="#fff" stroke="#fff" stroke-width="0.8"/><path d="M361.0,340.7 L360.1,341.6 L357.3,342.4 L357.8,341.9 Z" fill="#fff" stroke="#fff" stroke-width="0.8"/><path d="M360.1,341.6 L359.3,342.5 L356.8,343.0 L357.3,342.4 Z" fill="#fff" stroke="#fff" stroke-width="0.8"/><path d="M359.3,342.5 L358.4,343.5 L356.4,343.5 L356.8,343.0 Z" fill="#fff" stroke="#fff" stroke-width="0.8"/><path d="M358.4,343.5 L357.6,344.5 L355.9,344.1 L356.4,343.5 Z" fill="#fff" stroke="#fff" stroke-width="0.8"/><path d="M357.6,344.5 L356.8,345.6 L355.5,344.7 L355.9,344.1 Z" fill="#fff" stroke="#fff" stroke-width="0.8"/><path d="M356.8,345.6 L356.1,346.7 L355.1,345.3 L355.5,344.7 Z" fill="#fff" stroke="#fff" stroke-width="0.8"/><path d="M356.1,346.7 L355.4,347.8 L354.7,345.9 L355.1,345.3 Z" fill="#fff" stroke="#fff" stroke-width="0.8"/><path d="M355.4,347.8 L354.7,348.9 L354.4,346.5 L354.7,345.9 Z" fill="#fff" stroke="#fff" stroke-width="0.8"/><path d="M354.7,348.9 L354.1,350.1 L354.0,347.1 L354.4,346.5 Z" fill="#fff" stroke="#fff" stroke-width="0.8"/><path d="M354.1,350.1 L353.6,351.2 L353.7,347.8 L354.0,347.1 Z" fill="#fff" stroke="#fff" stroke-width="0.8"/><path d="M353.6,351.2 L353.1,352.4 L353.4,348.4 L353.7,347.8 Z" fill="#fff" stroke="#fff" stroke-width="0.8"/><path d="M353.1,352.4 L352.6,353.6 L353.2,349.0 L353.4,348.4 Z" fill="#fff" stroke="#fff" stroke-width="0.8"/><path d="M352.6,353.6 L352.2,354.8 L352.9,349.7 L353.2,349.0 Z" fill="#fff" stroke="#fff" stroke-width="0.8"/><path d="M352.2,354.8 L351.8,355.9 L352.7,350.4 L352.9,349.7 Z" fill="#fff" stroke="#fff" stroke-width="0.8"/><path d="M351.8,355.9 L351.5,357.1 L352.6,351.0 L352.7,350.4 Z" fill="#fff" stroke="#fff" stroke-width="0.8"/><path d="M351.5,357.1 L351.2,358.3 L352.4,351.7 L352.6,351.0 Z" fill="#fff" stroke="#fff" stroke-width="0.8"/><path d="M351.2,358.3 L351.0,359.5 L352.3,352.3 L352.4,351.7 Z" fill="#fff" stroke="#fff" stroke-width="0.8"/><path d="M351.0,359.5 L350.9,360.7 L352.2,352.9 L352.3,352.3 Z" fill="#fff" stroke="#fff" stroke-width="0.8"/><path d="M350.9,360.7 L350.8,361.8 L352.2,353.6 L352.2,352.9 Z" fill="#fff" stroke="#fff" stroke-width="0.8"/><path d="M350.8,361.8 L350.7,362.9 L352.1,354.2 L352.2,353.6 Z" fill="#fff" stroke="#fff" stroke-width="0.8"/><path d="M350.7,362.9 L350.7,364.0 L352.2,354.8 L352.1,354.2 Z" fill="#fff" stroke="#fff" stroke-width="0.8"/><path d="M350.7,364.0 L350.8,365.1 L352.2,355.4 L352.2,354.8 Z" fill="#fff" stroke="#fff" stroke-width="0.8"/><path d="M350.8,365.1 L350.9,366.2 L352.3,356.0 L352.2,355.4 Z" fill="#fff" stroke="#fff" stroke-width="0.8"/><path d="M350.9,366.2 L351.1,367.2 L352.4,356.6 L352.3,356.0 Z" fill="#fff" stroke="#fff" stroke-width="0.8"/><path d="M351.1,367.2 L351.3,368.2 L352.5,357.1 L352.4,356.6 Z" fill="#fff" stroke="#fff" stroke-width="0.8"/><path d="M351.3,368.2 L351.6,369.2 L352.6,357.6 L352.5,357.1 Z" fill="#fff" stroke="#fff" stroke-width="0.8"/><path d="M351.6,369.2 L351.9,370.1 L352.8,358.2 L352.6,357.6 Z" fill="#fff" stroke="#fff" stroke-width="0.8"/><path d="M351.9,370.1 L352.3,371.0 L353.0,358.6 L352.8,358.2 Z" fill="#fff" stroke="#fff" stroke-width="0.8"/><path d="M352.3,371.0 L352.8,371.9 L353.3,359.1 L353.0,358.6 Z" fill="#fff" stroke="#fff" stroke-width="0.8"/><path d="M352.8,371.9 L353.3,372.7 L353.5,359.5 L353.3,359.1 Z" fill="#fff" stroke="#fff" stroke-width="0.8"/><path d="M353.3,372.7 L353.8,373.4 L353.8,360.0 L353.5,359.5 Z" fill="#fff" stroke="#fff" stroke-width="0.8"/><path d="M353.8,373.4 L354.4,374.1 L354.2,360.3 L353.8,360.0 Z" fill="#fff" stroke="#fff" stroke-width="0.8"/><path d="M354.4,374.1 L355.0,374.8 L354.5,360.7 L354.2,360.3 Z" fill="#fff" stroke="#fff" stroke-width="0.8"/><path d="M355.0,374.8 L355.7,375.4 L354.9,361.0 L354.5,360.7 Z" fill="#fff" stroke="#fff" stroke-width="0.8"/><path d="M355.7,375.4 L356.4,375.9 L355.3,361.3 L354.9,361.0 Z" fill="#fff" stroke="#fff" stroke-width="0.8"/><path d="M381.8,369.2 L385.0,370.3 L385.9,369.9 L386.8,369.3 L387.5,368.6 L388.2,367.8 L388.7,366.9 L389.1,366.0 L389.4,364.9 L389.5,363.9 L387.4,361.3 Z" fill="#fff" stroke="#000" stroke-width="1.6" stroke-linejoin="round"/><path d="M374.5,375.1 L376.6,377.7 L377.5,377.6 L378.4,377.4 L379.2,377.1 L380.0,376.6 L380.8,375.9 L381.4,375.0 L382.0,374.0 L382.5,373.0 L381.8,369.2 Z" fill="#fff" stroke="#000" stroke-width="1.6" stroke-linejoin="round"/><path d="M387.4,361.3 L391.2,360.7 L392.0,359.9 L392.7,359.0 L393.3,358.1 L393.7,357.2 L394.0,356.3 L394.0,355.3 L393.9,354.4 L393.7,353.6 L390.5,352.4 Z" fill="#fff" stroke="#000" stroke-width="1.6" stroke-linejoin="round"/><path d="M366.6,378.0 L367.3,381.8 L368.1,382.1 L368.8,382.3 L369.6,382.3 L370.5,382.1 L371.3,381.7 L372.1,381.1 L372.9,380.3 L373.7,379.4 L374.5,375.1 Z" fill="#fff" stroke="#000" stroke-width="1.6" stroke-linejoin="round"/><path d="M390.5,352.4 L394.3,350.2 L394.9,349.2 L395.4,348.2 L395.7,347.3 L395.8,346.3 L395.7,345.5 L395.4,344.7 L395.0,344.1 L394.4,343.5 L390.6,344.1 Z" fill="#fff" stroke="#000" stroke-width="1.6" stroke-linejoin="round"/><path d="M359.4,377.5 L358.6,381.8 L359.1,382.5 L359.6,383.0 L360.2,383.4 L361.0,383.6 L361.8,383.5 L362.6,383.2 L363.5,382.8 L364.4,382.2 L366.6,378.0 Z" fill="#fff" stroke="#000" stroke-width="1.6" stroke-linejoin="round"/><path d="M390.6,344.1 L393.9,340.6 L394.1,339.6 L394.3,338.6 L394.2,337.7 L394.0,336.9 L393.6,336.3 L393.1,335.8 L392.3,335.5 L391.6,335.3 L387.8,337.4 Z" fill="#fff" stroke="#000" stroke-width="1.6" stroke-linejoin="round"/><path d="M353.9,373.6 L351.8,377.8 L351.9,378.7 L352.1,379.6 L352.4,380.3 L352.9,380.8 L353.6,381.1 L354.4,381.2 L355.2,381.1 L356.2,380.9 L359.4,377.5 Z" fill="#fff" stroke="#000" stroke-width="1.6" stroke-linejoin="round"/><path d="M387.8,337.4 L389.9,333.2 L389.8,332.3 L389.6,331.5 L389.3,330.8 L388.7,330.2 L388.1,329.9 L387.3,329.8 L386.4,329.9 L385.5,330.1 L382.3,333.6 Z" fill="#fff" stroke="#000" stroke-width="1.6" stroke-linejoin="round"/><path d="M382.3,333.6 L383.1,329.3 L382.6,328.6 L382.1,328.0 L381.5,327.6 L380.7,327.5 L379.9,327.5 L379.1,327.8 L378.2,328.3 L377.3,328.8 L375.1,333.0 Z" fill="#fff" stroke="#000" stroke-width="1.6" stroke-linejoin="round"/><path d="M351.0,367.0 L347.8,370.5 L347.6,371.5 L347.4,372.5 L347.5,373.4 L347.7,374.2 L348.1,374.8 L348.6,375.3 L349.4,375.6 L350.1,375.8 L353.9,373.6 Z" fill="#fff" stroke="#000" stroke-width="1.6" stroke-linejoin="round"/><path d="M375.1,333.0 L374.4,329.3 L373.6,329.0 L372.9,328.8 L372.1,328.8 L371.2,329.0 L370.4,329.4 L369.6,330.0 L368.8,330.8 L368.0,331.6 L367.2,335.9 Z" fill="#fff" stroke="#000" stroke-width="1.6" stroke-linejoin="round"/><path d="M351.2,358.6 L347.4,360.8 L346.8,361.8 L346.3,362.8 L346.0,363.8 L345.9,364.7 L346.0,365.5 L346.3,366.3 L346.7,367.0 L347.3,367.6 L351.0,367.0 Z" fill="#fff" stroke="#000" stroke-width="1.6" stroke-linejoin="round"/><path d="M355.4,342.0 L356.7,340.7 L355.8,341.2 L354.9,341.8 L354.1,342.4 L353.5,343.2 L353.0,344.1 L352.6,345.1 L352.3,346.1 L352.2,347.1 L353.0,345.5 Z" fill="#fff" stroke="#000" stroke-width="1.6" stroke-linejoin="round"/><path d="M367.2,335.9 L365.1,333.3 L364.2,333.4 L363.3,333.6 L362.5,334.0 L361.7,334.5 L360.9,335.2 L360.3,336.1 L359.7,337.0 L359.2,338.0 L359.9,341.8 Z" fill="#fff" stroke="#000" stroke-width="1.6" stroke-linejoin="round"/><path d="M354.3,349.8 L350.5,350.4 L349.7,351.2 L349.0,352.0 L348.4,352.9 L348.0,353.8 L347.7,354.8 L347.7,355.7 L347.8,356.6 L348.0,357.5 L351.2,358.6 Z" fill="#fff" stroke="#000" stroke-width="1.6" stroke-linejoin="round"/><path d="M359.9,341.8 L356.7,340.7 L355.8,341.2 L354.9,341.8 L354.1,342.4 L353.5,343.2 L353.0,344.1 L352.6,345.1 L352.3,346.1 L352.2,347.1 L354.3,349.8 Z" fill="#fff" stroke="#000" stroke-width="1.6" stroke-linejoin="round"/><ellipse cx="375.0" cy="358.5" rx="23.0" ry="15.8" transform="rotate(125.30 375.0 358.5)" fill="#fff" stroke="#000" stroke-width="2.4" /><ellipse cx="375.0" cy="358.5" rx="12.6" ry="8.7" transform="rotate(125.30 375.0 358.5)" fill="#fff" stroke="#000" stroke-width="2.6" /></g>
<g stroke-linecap="round"><line x1="620.0" y1="495.1" x2="707.9" y2="468.6" stroke="#000" stroke-width="1.2"/><line x1="368.0" y1="573.7" x2="392.0" y2="566.2" stroke="#000" stroke-width="1.2"/><line x1="620.0" y1="436.0" x2="676.0" y2="418.6" stroke="#000" stroke-width="1.2"/><line x1="730.0" y1="401.8" x2="783.0" y2="385.3" stroke="#000" stroke-width="1.2"/><line x1="77.8" y1="604.6" x2="139.5" y2="585.4" stroke="#000" stroke-width="1.2"/><line x1="66.8" y1="140.2" x2="97.0" y2="161.6" stroke="#000" stroke-width="1.2"/><line x1="123.5" y1="180.4" x2="160.0" y2="206.2" stroke="#000" stroke-width="1.2"/><line x1="183.3" y1="222.7" x2="203.0" y2="236.7" stroke="#000" stroke-width="1.2"/><line x1="285.8" y1="295.3" x2="306.0" y2="309.6" stroke="#000" stroke-width="1.2"/><line x1="329.2" y1="326.0" x2="350.0" y2="340.8" stroke="#000" stroke-width="1.2"/><line x1="377.5" y1="360.2" x2="402.0" y2="377.6" stroke="#000" stroke-width="1.2"/><line x1="419.6" y1="390.0" x2="456.4" y2="416.1" stroke="#000" stroke-width="1.2"/><line x1="92.1" y1="31.8" x2="73.5" y2="132.2" stroke="#000" stroke-width="1.2"/><line x1="133.0" y1="61.0" x2="120.6" y2="146.0" stroke="#000" stroke-width="1.2"/><line x1="192.9" y1="100.3" x2="176.7" y2="211.7" stroke="#000" stroke-width="1.2"/><line x1="261.7" y1="147.7" x2="245.8" y2="263.3" stroke="#000" stroke-width="1.2"/><line x1="362.3" y1="213.2" x2="355.2" y2="268.4" stroke="#000" stroke-width="1.2"/><line x1="455.8" y1="279.2" x2="332.5" y2="313.3" stroke="#000" stroke-width="1.2"/><line x1="513.3" y1="316.3" x2="393.3" y2="352.5" stroke="#000" stroke-width="1.2"/><line x1="563.3" y1="351.3" x2="430.0" y2="386.7" stroke="#000" stroke-width="1.2"/><line x1="829.2" y1="309.5" x2="829.2" y2="368.6" stroke="#000" stroke-width="1.2"/><line x1="70.7" y1="543.6" x2="70.7" y2="600.0" stroke="#000" stroke-width="1.2"/><line x1="791.5" y1="609.8" x2="758.2" y2="542.7" stroke="#000" stroke-width="1.2"/><line x1="645.8" y1="654.7" x2="590.5" y2="537.1" stroke="#000" stroke-width="1.2"/><line x1="508.9" y1="695.9" x2="464.9" y2="598.7" stroke="#000" stroke-width="1.2"/><line x1="366.9" y1="741.4" x2="319.8" y2="625.1" stroke="#000" stroke-width="1.2"/><line x1="241.3" y1="781.9" x2="209.3" y2="700.0" stroke="#000" stroke-width="1.2"/></g>
<g class="wm"><text x="77.4" y="452.3">b</text><text x="161.1" y="452.3">e</text><text x="239.3" y="452.3">l</text><text x="278.7" y="452.3">a</text><text x="354.8" y="452.3">r</text><text x="409.8" y="452.3">u</text><text x="491.5" y="452.3">s</text><text x="648.7" y="452.3">.</text><text x="686.8" y="452.3">r</text><text x="741.5" y="452.3">u</text><path d="M608.3,355.4 L623.6,355.4 L623.6,452.2 L604.8,452.2 L604.8,383.3 Q596,391 580.9,396.8 L580.9,379.8 Q601,372 608.3,355.4 Z" fill="none" stroke="#333" stroke-width="1"/></g>
<g class="lb"><text x="87.6" y="29.5">3</text><text x="128.7" y="61.0">4</text><text x="186.3" y="100.1">2</text><text x="258.6" y="145.0">7</text><text x="355.9" y="212.5">8</text><text x="459.0" y="281.3">2</text><text x="514.2" y="317.0">4</text><text x="566.5" y="352.5">3</text><path d="M823.6,305.7 L821.6,305.7 L821.6,292.8 L820.1,294.1 L817.5,295.3 L817.5,293.3 L819.6,292.2 L821.2,290.8 L822.3,289.2 L823.6,289.2 Z" fill="#000" stroke="#000" stroke-width="0.5" stroke-linejoin="round"/><path d="M836.4,305.7 L834.4,305.7 L834.4,292.8 L832.9,294.1 L830.3,295.3 L830.3,293.3 L832.4,292.2 L834.0,290.8 L835.0,289.2 L836.4,289.2 Z" fill="#000" stroke="#000" stroke-width="0.5" stroke-linejoin="round"/><path d="M70.1,529.8 L68.1,529.8 L68.1,516.9 L66.6,518.2 L64.0,519.4 L64.0,517.4 L66.1,516.3 L67.7,514.8 L68.8,513.3 L70.1,513.3 Z" fill="#000" stroke="#000" stroke-width="0.5" stroke-linejoin="round"/><path d="M788.3,628.1 L786.3,628.1 L786.3,615.2 L784.8,616.5 L782.2,617.7 L782.2,615.7 L784.3,614.6 L785.9,613.1 L787.0,611.6 L788.3,611.6 Z" fill="#000" stroke="#000" stroke-width="0.5" stroke-linejoin="round"/><text x="792.5" y="628.1">0</text><text x="643.3" y="675.3">6</text><text x="506.0" y="716.9">5</text><text x="360.9" y="762.8">6</text><text x="237.6" y="800.1">9</text></g>
</svg>
</body></html>
